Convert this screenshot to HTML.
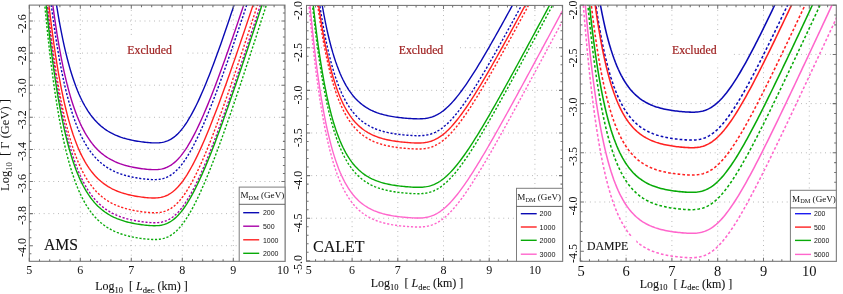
<!DOCTYPE html>
<html><head><meta charset="utf-8"><title>Exclusion limits</title>
<style>
html,body{margin:0;padding:0;background:#fff;}
body{width:843px;height:294px;overflow:hidden;font-family:"Liberation Serif",serif;}
svg{display:block;will-change:transform;}
svg text{font-family:"Liberation Serif",serif;fill:#111;}
svg text.h{stroke:#111;stroke-width:0.1px;}
svg text.s{font-family:"Liberation Sans",sans-serif;}
</style></head><body>
<svg width="843" height="294" viewBox="0 0 843 294">
<rect width="843" height="294" fill="#fff"/>
<defs>
<clipPath id="c1"><rect x="29.30" y="5.10" width="255.70" height="256.20"/></clipPath>
<clipPath id="c2"><rect x="306.50" y="5.40" width="256.10" height="255.90"/></clipPath>
<clipPath id="c3"><rect x="580.30" y="5.10" width="256.00" height="256.20"/></clipPath>
</defs>
<g stroke="#9a9a9a" stroke-width="0.75" stroke-dasharray="0.9 3.9" fill="none">
<path d="M80.30 5.10 V261.30"/>
<path d="M131.30 5.10 V261.30"/>
<path d="M182.30 5.10 V261.30"/>
<path d="M233.30 5.10 V261.30"/>
<path d="M29.30 21.00 H285.00"/>
<path d="M29.30 53.10 H285.00"/>
<path d="M29.30 85.20 H285.00"/>
<path d="M29.30 117.30 H285.00"/>
<path d="M29.30 149.40 H285.00"/>
<path d="M29.30 181.50 H285.00"/>
<path d="M29.30 213.60 H285.00"/>
<path d="M29.30 245.70 H285.00"/>
</g>
<g clip-path="url(#c1)" fill="none" stroke-width="1.40" stroke-linejoin="round">
<path d="M49.69 -45.71 L51.15 -33.54 L52.62 -22.15 L54.08 -11.48 L55.54 -1.50 L57.00 7.85 L58.46 16.60 L59.93 24.79 L61.39 32.46 L62.85 39.64 L64.31 46.36 L65.77 52.65 L67.24 58.54 L68.70 64.05 L70.16 69.21 L71.62 74.04 L73.08 78.56 L74.55 82.79 L76.01 86.76 L77.47 90.47 L78.93 93.94 L80.39 97.19 L81.86 100.23 L83.32 103.08 L84.78 105.75 L86.24 108.24 L87.70 110.58 L89.17 112.77 L90.63 114.82 L92.09 116.73 L93.55 118.53 L95.01 120.21 L96.48 121.78 L97.94 123.25 L99.40 124.63 L100.86 125.92 L102.32 127.13 L103.79 128.26 L105.25 129.32 L106.71 130.31 L108.17 131.24 L109.63 132.11 L111.10 132.92 L112.56 133.68 L114.02 134.39 L115.48 135.06 L116.94 135.68 L118.41 136.27 L119.87 136.81 L121.33 137.33 L122.79 137.81 L124.25 138.25 L125.72 138.67 L127.18 139.07 L128.64 139.44 L130.10 139.78 L131.56 140.10 L133.03 140.40 L134.49 140.69 L135.95 140.95 L137.41 141.20 L138.87 141.43 L140.34 141.65 L141.80 141.85 L143.26 142.04 L144.72 142.21 L146.18 142.37 L147.65 142.51 L149.11 142.64 L150.57 142.75 L152.03 142.84 L153.49 142.90 L154.96 142.92 L156.42 142.92 L157.88 142.86 L159.34 142.76 L160.81 142.60 L162.27 142.37 L163.73 142.06 L165.19 141.67 L166.65 141.18 L168.12 140.60 L169.58 139.91 L171.04 139.10 L172.50 138.17 L173.96 137.12 L175.43 135.94 L176.89 134.64 L178.35 133.20 L179.81 131.62 L181.27 129.92 L182.74 128.08 L184.20 126.11 L185.66 124.01 L187.12 121.79 L188.58 119.44 L190.05 116.97 L191.51 114.38 L192.97 111.68 L194.43 108.87 L195.89 105.96 L197.36 102.94 L198.82 99.83 L200.28 96.63 L201.74 93.33 L203.20 89.95 L204.67 86.49 L206.13 82.96 L207.59 79.35 L209.05 75.67 L210.51 71.93 L211.98 68.12 L213.44 64.26 L214.90 60.34 L216.36 56.36 L217.82 52.34 L219.29 48.27 L220.75 44.16 L222.21 40.00 L223.67 35.80 L225.13 31.57 L226.60 27.30 L228.06 23.00 L229.52 18.67 L230.98 14.31 L232.44 9.93 L233.91 5.51 L235.37 1.08 L236.83 -3.38 L238.29 -7.86 L239.75 -12.36 L241.22 -16.88 L242.68 -21.42 L244.14 -25.98 L245.60 -30.55 L247.06 -35.13 L248.53 -39.73 L249.99 -44.34 L251.45 -48.96 L252.91 -53.59" stroke="#0a0ab4"/>
<path d="M46.77 -47.10 L48.23 -33.13 L49.69 -20.05 L51.15 -7.80 L52.62 3.67 L54.08 14.40 L55.54 24.45 L57.00 33.85 L58.46 42.66 L59.93 50.90 L61.39 58.62 L62.85 65.84 L64.31 72.60 L65.77 78.93 L67.24 84.86 L68.70 90.40 L70.16 95.59 L71.62 100.46 L73.08 105.01 L74.55 109.27 L76.01 113.25 L77.47 116.99 L78.93 120.48 L80.39 123.75 L81.86 126.81 L83.32 129.68 L84.78 132.36 L86.24 134.88 L87.70 137.23 L89.17 139.43 L90.63 141.49 L92.09 143.42 L93.55 145.23 L95.01 146.92 L96.48 148.50 L97.94 149.98 L99.40 151.37 L100.86 152.67 L102.32 153.88 L103.79 155.02 L105.25 156.08 L106.71 157.08 L108.17 158.01 L109.63 158.89 L111.10 159.71 L112.56 160.47 L114.02 161.19 L115.48 161.86 L116.94 162.49 L118.41 163.07 L119.87 163.63 L121.33 164.14 L122.79 164.62 L124.25 165.07 L125.72 165.50 L127.18 165.89 L128.64 166.26 L130.10 166.61 L131.56 166.93 L133.03 167.24 L134.49 167.52 L135.95 167.79 L137.41 168.04 L138.87 168.27 L140.34 168.49 L141.80 168.69 L143.26 168.88 L144.72 169.05 L146.18 169.20 L147.65 169.34 L149.11 169.46 L150.57 169.55 L152.03 169.62 L153.49 169.66 L154.96 169.66 L156.42 169.61 L157.88 169.51 L159.34 169.36 L160.81 169.14 L162.27 168.84 L163.73 168.46 L165.19 167.99 L166.65 167.42 L168.12 166.75 L169.58 165.97 L171.04 165.07 L172.50 164.05 L173.96 162.91 L175.43 161.65 L176.89 160.26 L178.35 158.74 L179.81 157.10 L181.27 155.33 L182.74 153.43 L184.20 151.41 L185.66 149.27 L187.12 147.02 L188.58 144.65 L190.05 142.17 L191.51 139.58 L192.97 136.88 L194.43 134.09 L195.89 131.20 L197.36 128.22 L198.82 125.16 L200.28 122.00 L201.74 118.77 L203.20 115.47 L204.67 112.08 L206.13 108.64 L207.59 105.12 L209.05 101.54 L210.51 97.91 L211.98 94.22 L213.44 90.47 L214.90 86.68 L216.36 82.84 L217.82 78.96 L219.29 75.03 L220.75 71.07 L222.21 67.06 L223.67 63.03 L225.13 58.96 L226.60 54.85 L228.06 50.72 L229.52 46.57 L230.98 42.38 L232.44 38.17 L233.91 33.94 L235.37 29.69 L236.83 25.42 L238.29 21.13 L239.75 16.82 L241.22 12.49 L242.68 8.15 L244.14 3.80 L245.60 -0.57 L247.06 -4.95 L248.53 -9.35 L249.99 -13.75 L251.45 -18.17 L252.91 -22.59 L254.37 -27.03 L255.84 -31.47 L257.30 -35.92 L258.76 -40.38 L260.22 -44.85 L261.68 -49.32 L263.15 -53.80" stroke="#a800a8"/>
<path d="M45.31 -49.61 L46.77 -34.84 L48.23 -21.01 L49.69 -8.06 L51.15 4.05 L52.62 15.40 L54.08 26.01 L55.54 35.95 L57.00 45.26 L58.46 53.97 L59.93 62.13 L61.39 69.76 L62.85 76.91 L64.31 83.60 L65.77 89.86 L67.24 95.72 L68.70 101.21 L70.16 106.34 L71.62 111.15 L73.08 115.66 L74.55 119.87 L76.01 123.82 L77.47 127.51 L78.93 130.97 L80.39 134.20 L81.86 137.23 L83.32 140.07 L84.78 142.72 L86.24 145.21 L87.70 147.53 L89.17 149.71 L90.63 151.75 L92.09 153.66 L93.55 155.45 L95.01 157.12 L96.48 158.69 L97.94 160.15 L99.40 161.52 L100.86 162.81 L102.32 164.01 L103.79 165.14 L105.25 166.19 L106.71 167.18 L108.17 168.10 L109.63 168.96 L111.10 169.77 L112.56 170.53 L114.02 171.24 L115.48 171.90 L116.94 172.52 L118.41 173.11 L119.87 173.65 L121.33 174.16 L122.79 174.64 L124.25 175.08 L125.72 175.50 L127.18 175.89 L128.64 176.26 L130.10 176.60 L131.56 176.93 L133.03 177.23 L134.49 177.51 L135.95 177.77 L137.41 178.02 L138.87 178.25 L140.34 178.46 L141.80 178.66 L143.26 178.85 L144.72 179.02 L146.18 179.17 L147.65 179.30 L149.11 179.42 L150.57 179.51 L152.03 179.58 L153.49 179.61 L154.96 179.61 L156.42 179.56 L157.88 179.46 L159.34 179.30 L160.81 179.07 L162.27 178.77 L163.73 178.39 L165.19 177.91 L166.65 177.34 L168.12 176.66 L169.58 175.87 L171.04 174.96 L172.50 173.94 L173.96 172.79 L175.43 171.51 L176.89 170.11 L178.35 168.58 L179.81 166.92 L181.27 165.14 L182.74 163.23 L184.20 161.20 L185.66 159.05 L187.12 156.78 L188.58 154.39 L190.05 151.89 L191.51 149.29 L192.97 146.58 L194.43 143.77 L195.89 140.86 L197.36 137.87 L198.82 134.78 L200.28 131.61 L201.74 128.36 L203.20 125.04 L204.67 121.64 L206.13 118.17 L207.59 114.64 L209.05 111.04 L210.51 107.38 L211.98 103.67 L213.44 99.91 L214.90 96.10 L216.36 92.24 L217.82 88.33 L219.29 84.39 L220.75 80.40 L222.21 76.38 L223.67 72.32 L225.13 68.23 L226.60 64.10 L228.06 59.95 L229.52 55.77 L230.98 51.57 L232.44 47.34 L233.91 43.09 L235.37 38.81 L236.83 34.52 L238.29 30.21 L239.75 25.88 L241.22 21.53 L242.68 17.17 L244.14 12.79 L245.60 8.40 L247.06 4.00 L248.53 -0.42 L249.99 -4.85 L251.45 -9.28 L252.91 -13.73 L254.37 -18.19 L255.84 -22.65 L257.30 -27.13 L258.76 -31.61 L260.22 -36.10 L261.68 -40.60 L263.15 -45.10 L264.61 -49.61 L266.07 -54.12" stroke="#0a0ab4" stroke-dasharray="2.15 1.75"/>
<path d="M43.84 -45.64 L45.31 -29.95 L46.77 -15.26 L48.23 -1.50 L49.69 11.37 L51.15 23.42 L52.62 34.71 L54.08 45.27 L55.54 55.15 L57.00 64.41 L58.46 73.07 L59.93 81.18 L61.39 88.78 L62.85 95.88 L64.31 102.54 L65.77 108.77 L67.24 114.60 L68.70 120.06 L70.16 125.17 L71.62 129.95 L73.08 134.43 L74.55 138.62 L76.01 142.54 L77.47 146.22 L78.93 149.66 L80.39 152.87 L81.86 155.89 L83.32 158.71 L84.78 161.35 L86.24 163.82 L87.70 166.14 L89.17 168.30 L90.63 170.33 L92.09 172.23 L93.55 174.01 L95.01 175.67 L96.48 177.23 L97.94 178.68 L99.40 180.05 L100.86 181.33 L102.32 182.52 L103.79 183.64 L105.25 184.69 L106.71 185.67 L108.17 186.59 L109.63 187.45 L111.10 188.25 L112.56 189.01 L114.02 189.71 L115.48 190.37 L116.94 190.99 L118.41 191.57 L119.87 192.11 L121.33 192.62 L122.79 193.09 L124.25 193.54 L125.72 193.95 L127.18 194.34 L128.64 194.71 L130.10 195.05 L131.56 195.37 L133.03 195.67 L134.49 195.95 L135.95 196.21 L137.41 196.45 L138.87 196.68 L140.34 196.90 L141.80 197.09 L143.26 197.28 L144.72 197.44 L146.18 197.59 L147.65 197.72 L149.11 197.83 L150.57 197.92 L152.03 197.98 L153.49 198.00 L154.96 197.98 L156.42 197.92 L157.88 197.80 L159.34 197.62 L160.81 197.37 L162.27 197.04 L163.73 196.63 L165.19 196.12 L166.65 195.51 L168.12 194.80 L169.58 193.97 L171.04 193.03 L172.50 191.97 L173.96 190.79 L175.43 189.48 L176.89 188.05 L178.35 186.49 L179.81 184.80 L181.27 182.99 L182.74 181.06 L184.20 179.00 L185.66 176.83 L187.12 174.55 L188.58 172.15 L190.05 169.64 L191.51 167.03 L192.97 164.31 L194.43 161.50 L195.89 158.60 L197.36 155.61 L198.82 152.53 L200.28 149.37 L201.74 146.13 L203.20 142.82 L204.67 139.44 L206.13 135.99 L207.59 132.48 L209.05 128.91 L210.51 125.28 L211.98 121.60 L213.44 117.86 L214.90 114.08 L216.36 110.26 L217.82 106.39 L219.29 102.48 L220.75 98.53 L222.21 94.55 L223.67 90.53 L225.13 86.48 L226.60 82.40 L228.06 78.30 L229.52 74.16 L230.98 70.00 L232.44 65.82 L233.91 61.62 L235.37 57.40 L236.83 53.15 L238.29 48.89 L239.75 44.61 L241.22 40.32 L242.68 36.01 L244.14 31.69 L245.60 27.35 L247.06 23.00 L248.53 18.64 L249.99 14.27 L251.45 9.89 L252.91 5.50 L254.37 1.10 L255.84 -3.31 L257.30 -7.73 L258.76 -12.15 L260.22 -16.59 L261.68 -21.02 L263.15 -25.47 L264.61 -29.92 L266.07 -34.37 L267.53 -38.83 L268.99 -43.29 L270.46 -47.76 L271.92 -52.24" stroke="#ff2020"/>
<path d="M42.38 -50.56 L43.84 -33.62 L45.31 -17.75 L46.77 -2.90 L48.23 11.00 L49.69 24.02 L51.15 36.20 L52.62 47.60 L54.08 58.28 L55.54 68.27 L57.00 77.63 L58.46 86.39 L59.93 94.59 L61.39 102.26 L62.85 109.45 L64.31 116.17 L65.77 122.47 L67.24 128.36 L68.70 133.88 L70.16 139.05 L71.62 143.88 L73.08 148.41 L74.55 152.64 L76.01 156.61 L77.47 160.32 L78.93 163.80 L80.39 167.05 L81.86 170.10 L83.32 172.95 L84.78 175.62 L86.24 178.12 L87.70 180.46 L89.17 182.65 L90.63 184.70 L92.09 186.62 L93.55 188.41 L95.01 190.10 L96.48 191.67 L97.94 193.14 L99.40 194.52 L100.86 195.81 L102.32 197.02 L103.79 198.16 L105.25 199.22 L106.71 200.21 L108.17 201.14 L109.63 202.00 L111.10 202.82 L112.56 203.58 L114.02 204.29 L115.48 204.96 L116.94 205.58 L118.41 206.17 L119.87 206.72 L121.33 207.23 L122.79 207.71 L124.25 208.16 L125.72 208.58 L127.18 208.97 L128.64 209.34 L130.10 209.69 L131.56 210.01 L133.03 210.31 L134.49 210.59 L135.95 210.86 L137.41 211.11 L138.87 211.34 L140.34 211.55 L141.80 211.76 L143.26 211.94 L144.72 212.11 L146.18 212.27 L147.65 212.41 L149.11 212.53 L150.57 212.62 L152.03 212.70 L153.49 212.74 L154.96 212.74 L156.42 212.71 L157.88 212.62 L159.34 212.47 L160.81 212.27 L162.27 211.98 L163.73 211.62 L165.19 211.16 L166.65 210.61 L168.12 209.96 L169.58 209.19 L171.04 208.31 L172.50 207.31 L173.96 206.19 L175.43 204.94 L176.89 203.56 L178.35 202.05 L179.81 200.42 L181.27 198.66 L182.74 196.77 L184.20 194.75 L185.66 192.62 L187.12 190.36 L188.58 187.99 L190.05 185.50 L191.51 182.91 L192.97 180.20 L194.43 177.40 L195.89 174.50 L197.36 171.50 L198.82 168.41 L200.28 165.24 L201.74 161.99 L203.20 158.65 L204.67 155.25 L206.13 151.77 L207.59 148.22 L209.05 144.62 L210.51 140.95 L211.98 137.22 L213.44 133.44 L214.90 129.61 L216.36 125.73 L217.82 121.80 L219.29 117.84 L220.75 113.83 L222.21 109.78 L223.67 105.70 L225.13 101.58 L226.60 97.43 L228.06 93.25 L229.52 89.05 L230.98 84.81 L232.44 80.56 L233.91 76.27 L235.37 71.97 L236.83 67.65 L238.29 63.30 L239.75 58.94 L241.22 54.56 L242.68 50.17 L244.14 45.76 L245.60 41.33 L247.06 36.90 L248.53 32.45 L249.99 27.98 L251.45 23.51 L252.91 19.03 L254.37 14.54 L255.84 10.04 L257.30 5.53 L258.76 1.01 L260.22 -3.52 L261.68 -8.05 L263.15 -12.59 L264.61 -17.13 L266.07 -21.68 L267.53 -26.24 L268.99 -30.80 L270.46 -35.36 L271.92 -39.93 L273.38 -44.51 L274.84 -49.09 L276.30 -53.67" stroke="#ff2020" stroke-dasharray="2.15 1.75"/>
<path d="M42.38 -47.51 L43.84 -30.11 L45.31 -13.83 L46.77 1.41 L48.23 15.68 L49.69 29.03 L51.15 41.53 L52.62 53.24 L54.08 64.20 L55.54 74.45 L57.00 84.05 L58.46 93.04 L59.93 101.46 L61.39 109.33 L62.85 116.71 L64.31 123.61 L65.77 130.07 L67.24 136.12 L68.70 141.78 L70.16 147.08 L71.62 152.05 L73.08 156.69 L74.55 161.04 L76.01 165.11 L77.47 168.92 L78.93 172.49 L80.39 175.83 L81.86 178.95 L83.32 181.88 L84.78 184.62 L86.24 187.18 L87.70 189.58 L89.17 191.83 L90.63 193.94 L92.09 195.90 L93.55 197.75 L95.01 199.47 L96.48 201.09 L97.94 202.60 L99.40 204.02 L100.86 205.34 L102.32 206.58 L103.79 207.75 L105.25 208.83 L106.71 209.85 L108.17 210.80 L109.63 211.70 L111.10 212.53 L112.56 213.31 L114.02 214.04 L115.48 214.73 L116.94 215.37 L118.41 215.97 L119.87 216.53 L121.33 217.06 L122.79 217.55 L124.25 218.01 L125.72 218.44 L127.18 218.85 L128.64 219.23 L130.10 219.58 L131.56 219.91 L133.03 220.22 L134.49 220.51 L135.95 220.78 L137.41 221.04 L138.87 221.27 L140.34 221.50 L141.80 221.70 L143.26 221.89 L144.72 222.07 L146.18 222.23 L147.65 222.37 L149.11 222.49 L150.57 222.59 L152.03 222.67 L153.49 222.71 L154.96 222.72 L156.42 222.68 L157.88 222.59 L159.34 222.44 L160.81 222.23 L162.27 221.94 L163.73 221.57 L165.19 221.11 L166.65 220.56 L168.12 219.89 L169.58 219.12 L171.04 218.23 L172.50 217.22 L173.96 216.09 L175.43 214.83 L176.89 213.44 L178.35 211.92 L179.81 210.28 L181.27 208.50 L182.74 206.60 L184.20 204.57 L185.66 202.42 L187.12 200.16 L188.58 197.77 L190.05 195.27 L191.51 192.66 L192.97 189.95 L194.43 187.13 L195.89 184.21 L197.36 181.20 L198.82 178.11 L200.28 174.92 L201.74 171.65 L203.20 168.31 L204.67 164.89 L206.13 161.40 L207.59 157.84 L209.05 154.22 L210.51 150.54 L211.98 146.80 L213.44 143.01 L214.90 139.16 L216.36 135.27 L217.82 131.34 L219.29 127.36 L220.75 123.34 L222.21 119.28 L223.67 115.18 L225.13 111.06 L226.60 106.90 L228.06 102.71 L229.52 98.49 L230.98 94.24 L232.44 89.97 L233.91 85.68 L235.37 81.37 L236.83 77.03 L238.29 72.68 L239.75 68.30 L241.22 63.91 L242.68 59.51 L244.14 55.09 L245.60 50.65 L247.06 46.20 L248.53 41.74 L249.99 37.27 L251.45 32.79 L252.91 28.29 L254.37 23.79 L255.84 19.28 L257.30 14.76 L258.76 10.23 L260.22 5.70 L261.68 1.15 L263.15 -3.40 L264.61 -7.95 L266.07 -12.51 L267.53 -17.08 L268.99 -21.65 L270.46 -26.23 L271.92 -30.81 L273.38 -35.39 L274.84 -39.98 L276.30 -44.57 L277.77 -49.17 L279.23 -53.76" stroke="#a800a8" stroke-dasharray="2.15 1.75"/>
<path d="M42.38 -37.16 L43.84 -20.24 L45.31 -4.40 L46.77 10.43 L48.23 24.31 L49.69 37.30 L51.15 49.46 L52.62 60.85 L54.08 71.51 L55.54 81.48 L57.00 90.82 L58.46 99.57 L59.93 107.75 L61.39 115.42 L62.85 122.59 L64.31 129.30 L65.77 135.59 L67.24 141.47 L68.70 146.98 L70.16 152.14 L71.62 156.97 L73.08 161.49 L74.55 165.72 L76.01 169.68 L77.47 173.38 L78.93 176.85 L80.39 180.10 L81.86 183.14 L83.32 185.99 L84.78 188.65 L86.24 191.15 L87.70 193.48 L89.17 195.67 L90.63 197.72 L92.09 199.63 L93.55 201.43 L95.01 203.11 L96.48 204.68 L97.94 206.15 L99.40 207.53 L100.86 208.82 L102.32 210.02 L103.79 211.15 L105.25 212.21 L106.71 213.20 L108.17 214.13 L109.63 214.99 L111.10 215.81 L112.56 216.57 L114.02 217.28 L115.48 217.95 L116.94 218.57 L118.41 219.15 L119.87 219.70 L121.33 220.21 L122.79 220.69 L124.25 221.14 L125.72 221.56 L127.18 221.95 L128.64 222.32 L130.10 222.66 L131.56 222.99 L133.03 223.29 L134.49 223.57 L135.95 223.83 L137.41 224.08 L138.87 224.31 L140.34 224.53 L141.80 224.73 L143.26 224.92 L144.72 225.09 L146.18 225.24 L147.65 225.38 L149.11 225.50 L150.57 225.60 L152.03 225.67 L153.49 225.71 L154.96 225.71 L156.42 225.67 L157.88 225.58 L159.34 225.44 L160.81 225.23 L162.27 224.94 L163.73 224.57 L165.19 224.12 L166.65 223.56 L168.12 222.91 L169.58 222.14 L171.04 221.26 L172.50 220.26 L173.96 219.14 L175.43 217.89 L176.89 216.51 L178.35 215.01 L179.81 213.38 L181.27 211.62 L182.74 209.73 L184.20 207.73 L185.66 205.60 L187.12 203.35 L188.58 200.98 L190.05 198.50 L191.51 195.92 L192.97 193.23 L194.43 190.43 L195.89 187.54 L197.36 184.56 L198.82 181.49 L200.28 178.33 L201.74 175.09 L203.20 171.77 L204.67 168.38 L206.13 164.92 L207.59 161.39 L209.05 157.80 L210.51 154.15 L211.98 150.45 L213.44 146.69 L214.90 142.88 L216.36 139.02 L217.82 135.11 L219.29 131.17 L220.75 127.18 L222.21 123.15 L223.67 119.09 L225.13 115.00 L226.60 110.88 L228.06 106.72 L229.52 102.54 L230.98 98.33 L232.44 94.09 L233.91 89.84 L235.37 85.56 L236.83 81.26 L238.29 76.94 L239.75 72.60 L241.22 68.25 L242.68 63.88 L244.14 59.50 L245.60 55.10 L247.06 50.69 L248.53 46.26 L249.99 41.83 L251.45 37.38 L252.91 32.93 L254.37 28.46 L255.84 23.99 L257.30 19.50 L258.76 15.01 L260.22 10.51 L261.68 6.01 L263.15 1.50 L264.61 -3.02 L266.07 -7.54 L267.53 -12.07 L268.99 -16.61 L270.46 -21.15 L271.92 -25.69 L273.38 -30.23 L274.84 -34.79 L276.30 -39.34 L277.77 -43.90 L279.23 -48.46 L280.69 -53.02" stroke="#08aa08"/>
<path d="M40.92 -40.01 L42.38 -22.03 L43.84 -5.19 L45.31 10.56 L46.77 25.31 L48.23 39.12 L49.69 52.05 L51.15 64.15 L52.62 75.48 L54.08 86.08 L55.54 96.01 L57.00 105.30 L58.46 114.00 L59.93 122.14 L61.39 129.76 L62.85 136.90 L64.31 143.58 L65.77 149.83 L67.24 155.69 L68.70 161.17 L70.16 166.30 L71.62 171.10 L73.08 175.60 L74.55 179.80 L76.01 183.74 L77.47 187.43 L78.93 190.88 L80.39 194.12 L81.86 197.14 L83.32 199.97 L84.78 202.63 L86.24 205.11 L87.70 207.43 L89.17 209.61 L90.63 211.64 L92.09 213.55 L93.55 215.33 L95.01 217.00 L96.48 218.57 L97.94 220.03 L99.40 221.40 L100.86 222.68 L102.32 223.88 L103.79 225.01 L105.25 226.06 L106.71 227.04 L108.17 227.97 L109.63 228.83 L111.10 229.64 L112.56 230.39 L114.02 231.10 L115.48 231.77 L116.94 232.39 L118.41 232.97 L119.87 233.51 L121.33 234.02 L122.79 234.50 L124.25 234.94 L125.72 235.36 L127.18 235.75 L128.64 236.12 L130.10 236.46 L131.56 236.78 L133.03 237.08 L134.49 237.36 L135.95 237.62 L137.41 237.87 L138.87 238.10 L140.34 238.32 L141.80 238.52 L143.26 238.70 L144.72 238.87 L146.18 239.03 L147.65 239.17 L149.11 239.28 L150.57 239.38 L152.03 239.46 L153.49 239.50 L154.96 239.51 L156.42 239.47 L157.88 239.39 L159.34 239.25 L160.81 239.05 L162.27 238.78 L163.73 238.42 L165.19 237.98 L166.65 237.44 L168.12 236.79 L169.58 236.04 L171.04 235.17 L172.50 234.19 L173.96 233.08 L175.43 231.85 L176.89 230.49 L178.35 229.00 L179.81 227.38 L181.27 225.63 L182.74 223.76 L184.20 221.76 L185.66 219.64 L187.12 217.40 L188.58 215.04 L190.05 212.57 L191.51 209.99 L192.97 207.31 L194.43 204.52 L195.89 201.63 L197.36 198.65 L198.82 195.58 L200.28 192.42 L201.74 189.18 L203.20 185.86 L204.67 182.46 L206.13 179.00 L207.59 175.46 L209.05 171.87 L210.51 168.21 L211.98 164.50 L213.44 160.73 L214.90 156.91 L216.36 153.04 L217.82 149.12 L219.29 145.17 L220.75 141.17 L222.21 137.13 L223.67 133.06 L225.13 128.95 L226.60 124.81 L228.06 120.64 L229.52 116.44 L230.98 112.22 L232.44 107.97 L233.91 103.70 L235.37 99.40 L236.83 95.09 L238.29 90.75 L239.75 86.40 L241.22 82.03 L242.68 77.64 L244.14 73.24 L245.60 68.82 L247.06 64.39 L248.53 59.95 L249.99 55.50 L251.45 51.03 L252.91 46.56 L254.37 42.07 L255.84 37.58 L257.30 33.07 L258.76 28.56 L260.22 24.05 L261.68 19.52 L263.15 14.99 L264.61 10.45 L266.07 5.91 L267.53 1.36 L268.99 -3.19 L270.46 -7.75 L271.92 -12.31 L273.38 -16.88 L274.84 -21.45 L276.30 -26.03 L277.77 -30.60 L279.23 -35.19 L280.69 -39.77 L282.15 -44.36 L283.61 -48.95 L285.08 -53.54" stroke="#08aa08" stroke-dasharray="2.15 1.75"/>
</g>
<g stroke="#727272" stroke-width="1.05" fill="none">
<rect x="29.30" y="5.10" width="255.70" height="256.20"/>
<path d="M29.30 261.30v-3.6M29.30 5.10v3.6M39.50 261.30v-2.1M39.50 5.10v2.1M49.70 261.30v-2.1M49.70 5.10v2.1M59.90 261.30v-2.1M59.90 5.10v2.1M70.10 261.30v-2.1M70.10 5.10v2.1M80.30 261.30v-3.6M80.30 5.10v3.6M90.50 261.30v-2.1M90.50 5.10v2.1M100.70 261.30v-2.1M100.70 5.10v2.1M110.90 261.30v-2.1M110.90 5.10v2.1M121.10 261.30v-2.1M121.10 5.10v2.1M131.30 261.30v-3.6M131.30 5.10v3.6M141.50 261.30v-2.1M141.50 5.10v2.1M151.70 261.30v-2.1M151.70 5.10v2.1M161.90 261.30v-2.1M161.90 5.10v2.1M172.10 261.30v-2.1M172.10 5.10v2.1M182.30 261.30v-3.6M182.30 5.10v3.6M192.50 261.30v-2.1M192.50 5.10v2.1M202.70 261.30v-2.1M202.70 5.10v2.1M212.90 261.30v-2.1M212.90 5.10v2.1M223.10 261.30v-2.1M223.10 5.10v2.1M233.30 261.30v-3.6M233.30 5.10v3.6M243.50 261.30v-2.1M243.50 5.10v2.1M253.70 261.30v-2.1M253.70 5.10v2.1M263.90 261.30v-2.1M263.90 5.10v2.1M274.10 261.30v-2.1M274.10 5.10v2.1M284.30 261.30v-3.6M284.30 5.10v3.6M29.30 253.72h2.1M285.00 253.72h-2.1M29.30 245.70h3.6M285.00 245.70h-3.6M29.30 237.68h2.1M285.00 237.68h-2.1M29.30 229.65h2.1M285.00 229.65h-2.1M29.30 221.62h2.1M285.00 221.62h-2.1M29.30 213.60h3.6M285.00 213.60h-3.6M29.30 205.57h2.1M285.00 205.57h-2.1M29.30 197.55h2.1M285.00 197.55h-2.1M29.30 189.53h2.1M285.00 189.53h-2.1M29.30 181.50h3.6M285.00 181.50h-3.6M29.30 173.48h2.1M285.00 173.48h-2.1M29.30 165.45h2.1M285.00 165.45h-2.1M29.30 157.43h2.1M285.00 157.43h-2.1M29.30 149.40h3.6M285.00 149.40h-3.6M29.30 141.38h2.1M285.00 141.38h-2.1M29.30 133.35h2.1M285.00 133.35h-2.1M29.30 125.32h2.1M285.00 125.32h-2.1M29.30 117.30h3.6M285.00 117.30h-3.6M29.30 109.28h2.1M285.00 109.28h-2.1M29.30 101.25h2.1M285.00 101.25h-2.1M29.30 93.23h2.1M285.00 93.23h-2.1M29.30 85.20h3.6M285.00 85.20h-3.6M29.30 77.18h2.1M285.00 77.18h-2.1M29.30 69.15h2.1M285.00 69.15h-2.1M29.30 61.12h2.1M285.00 61.12h-2.1M29.30 53.10h3.6M285.00 53.10h-3.6M29.30 45.07h2.1M285.00 45.07h-2.1M29.30 37.05h2.1M285.00 37.05h-2.1M29.30 29.03h2.1M285.00 29.03h-2.1M29.30 21.00h3.6M285.00 21.00h-3.6M29.30 12.98h2.1M285.00 12.98h-2.1"/>
</g>
<g stroke="#9a9a9a" stroke-width="0.75" stroke-dasharray="0.9 3.9" fill="none">
<path d="M352.10 5.40 V261.30"/>
<path d="M397.80 5.40 V261.30"/>
<path d="M443.50 5.40 V261.30"/>
<path d="M489.20 5.40 V261.30"/>
<path d="M534.90 5.40 V261.30"/>
<path d="M306.50 47.73 H562.60"/>
<path d="M306.50 90.35 H562.60"/>
<path d="M306.50 132.97 H562.60"/>
<path d="M306.50 175.60 H562.60"/>
<path d="M306.50 218.22 H562.60"/>
</g>
<g clip-path="url(#c2)" fill="none" stroke-width="1.40" stroke-linejoin="round">
<path d="M315.21 -43.10 L316.68 -31.50 L318.14 -20.74 L319.61 -10.73 L321.07 -1.44 L322.54 7.19 L324.00 15.21 L325.46 22.65 L326.93 29.57 L328.39 36.00 L329.86 41.96 L331.32 47.51 L332.78 52.66 L334.25 57.44 L335.71 61.88 L337.18 66.01 L338.64 69.84 L340.11 73.41 L341.57 76.71 L343.03 79.79 L344.50 82.64 L345.96 85.29 L347.43 87.75 L348.89 90.04 L350.36 92.17 L351.82 94.14 L353.28 95.97 L354.75 97.67 L356.21 99.26 L357.68 100.73 L359.14 102.09 L360.61 103.36 L362.07 104.54 L363.53 105.63 L365.00 106.64 L366.46 107.59 L367.93 108.47 L369.39 109.28 L370.86 110.04 L372.32 110.74 L373.78 111.39 L375.25 112.00 L376.71 112.56 L378.18 113.08 L379.64 113.57 L381.11 114.02 L382.57 114.44 L384.03 114.83 L385.50 115.19 L386.96 115.53 L388.43 115.84 L389.89 116.13 L391.35 116.40 L392.82 116.65 L394.28 116.88 L395.75 117.10 L397.21 117.30 L398.68 117.48 L400.14 117.66 L401.60 117.82 L403.07 117.96 L404.53 118.10 L406.00 118.23 L407.46 118.35 L408.93 118.46 L410.39 118.56 L411.85 118.64 L413.32 118.72 L414.78 118.78 L416.25 118.82 L417.71 118.85 L419.18 118.84 L420.64 118.81 L422.10 118.75 L423.57 118.64 L425.03 118.49 L426.50 118.28 L427.96 118.02 L429.43 117.69 L430.89 117.29 L432.35 116.82 L433.82 116.27 L435.28 115.64 L436.75 114.93 L438.21 114.14 L439.67 113.25 L441.14 112.29 L442.60 111.23 L444.07 110.10 L445.53 108.88 L447.00 107.58 L448.46 106.20 L449.92 104.75 L451.39 103.22 L452.85 101.62 L454.32 99.95 L455.78 98.22 L457.25 96.43 L458.71 94.58 L460.17 92.67 L461.64 90.71 L463.10 88.70 L464.57 86.64 L466.03 84.53 L467.50 82.39 L468.96 80.20 L470.42 77.98 L471.89 75.72 L473.35 73.43 L474.82 71.11 L476.28 68.76 L477.75 66.38 L479.21 63.97 L480.67 61.55 L482.14 59.10 L483.60 56.63 L485.07 54.14 L486.53 51.63 L487.99 49.10 L489.46 46.56 L490.92 44.01 L492.39 41.44 L493.85 38.86 L495.32 36.26 L496.78 33.66 L498.24 31.04 L499.71 28.42 L501.17 25.79 L502.64 23.14 L504.10 20.49 L505.57 17.84 L507.03 15.17 L508.49 12.50 L509.96 9.83 L511.42 7.15 L512.89 4.46 L514.35 1.77 L515.82 -0.93 L517.28 -3.62 L518.74 -6.33 L520.21 -9.03 L521.67 -11.74 L523.14 -14.46 L524.60 -17.17 L526.07 -19.89 L527.53 -22.61 L528.99 -25.33 L530.46 -28.06 L531.92 -30.79 L533.39 -33.51 L534.85 -36.24 L536.32 -38.98 L537.78 -41.71 L539.24 -44.44 L540.71 -47.18 L542.17 -49.92 L543.64 -52.66" stroke="#0a0ab4"/>
<path d="M313.75 -41.43 L315.21 -28.76 L316.68 -16.98 L318.14 -6.05 L319.61 4.11 L321.07 13.55 L322.54 22.32 L324.00 30.46 L325.46 38.02 L326.93 45.05 L328.39 51.57 L329.86 57.64 L331.32 63.27 L332.78 68.50 L334.25 73.35 L335.71 77.87 L337.18 82.06 L338.64 85.95 L340.11 89.57 L341.57 92.93 L343.03 96.05 L344.50 98.95 L345.96 101.64 L347.43 104.14 L348.89 106.47 L350.36 108.62 L351.82 110.63 L353.28 112.49 L354.75 114.22 L356.21 115.83 L357.68 117.32 L359.14 118.70 L360.61 119.99 L362.07 121.19 L363.53 122.30 L365.00 123.33 L366.46 124.29 L367.93 125.18 L369.39 126.01 L370.86 126.77 L372.32 127.49 L373.78 128.15 L375.25 128.77 L376.71 129.34 L378.18 129.87 L379.64 130.36 L381.11 130.82 L382.57 131.25 L384.03 131.64 L385.50 132.01 L386.96 132.35 L388.43 132.67 L389.89 132.96 L391.35 133.24 L392.82 133.49 L394.28 133.73 L395.75 133.94 L397.21 134.15 L398.68 134.34 L400.14 134.51 L401.60 134.68 L403.07 134.83 L404.53 134.97 L406.00 135.10 L407.46 135.22 L408.93 135.33 L410.39 135.42 L411.85 135.51 L413.32 135.58 L414.78 135.64 L416.25 135.68 L417.71 135.70 L419.18 135.69 L420.64 135.65 L422.10 135.57 L423.57 135.45 L425.03 135.28 L426.50 135.06 L427.96 134.78 L429.43 134.43 L430.89 134.00 L432.35 133.51 L433.82 132.93 L435.28 132.28 L436.75 131.54 L438.21 130.72 L439.67 129.81 L441.14 128.82 L442.60 127.74 L444.07 126.58 L445.53 125.34 L447.00 124.02 L448.46 122.62 L449.92 121.15 L451.39 119.61 L452.85 117.99 L454.32 116.32 L455.78 114.57 L457.25 112.77 L458.71 110.91 L460.17 109.00 L461.64 107.03 L463.10 105.02 L464.57 102.95 L466.03 100.85 L467.50 98.70 L468.96 96.52 L470.42 94.30 L471.89 92.05 L473.35 89.76 L474.82 87.45 L476.28 85.10 L477.75 82.73 L479.21 80.34 L480.67 77.92 L482.14 75.48 L483.60 73.02 L485.07 70.54 L486.53 68.05 L487.99 65.53 L489.46 63.01 L490.92 60.47 L492.39 57.91 L493.85 55.35 L495.32 52.77 L496.78 50.18 L498.24 47.58 L499.71 44.97 L501.17 42.35 L502.64 39.73 L504.10 37.10 L505.57 34.46 L507.03 31.81 L508.49 29.16 L509.96 26.50 L511.42 23.84 L512.89 21.17 L514.35 18.50 L515.82 15.82 L517.28 13.14 L518.74 10.46 L520.21 7.77 L521.67 5.08 L523.14 2.39 L524.60 -0.31 L526.07 -3.00 L527.53 -5.71 L528.99 -8.41 L530.46 -11.11 L531.92 -13.82 L533.39 -16.53 L534.85 -19.24 L536.32 -21.95 L537.78 -24.66 L539.24 -27.38 L540.71 -30.09 L542.17 -32.81 L543.64 -35.53 L545.10 -38.25 L546.56 -40.97 L548.03 -43.69 L549.49 -46.41 L550.96 -49.13 L552.42 -51.85 L553.89 -54.58" stroke="#0a0ab4" stroke-dasharray="2.2 1.8"/>
<path d="M312.29 -46.56 L313.75 -33.00 L315.21 -20.41 L316.68 -8.70 L318.14 2.16 L319.61 12.26 L321.07 21.64 L322.54 30.35 L324.00 38.44 L325.46 45.96 L326.93 52.94 L328.39 59.42 L329.86 65.45 L331.32 71.04 L332.78 76.24 L334.25 81.07 L335.71 85.55 L337.18 89.72 L338.64 93.59 L340.11 97.18 L341.57 100.52 L343.03 103.62 L344.50 106.50 L345.96 109.18 L347.43 111.66 L348.89 113.97 L350.36 116.12 L351.82 118.11 L353.28 119.96 L354.75 121.68 L356.21 123.27 L357.68 124.76 L359.14 126.13 L360.61 127.41 L362.07 128.60 L363.53 129.71 L365.00 130.73 L366.46 131.68 L367.93 132.57 L369.39 133.39 L370.86 134.15 L372.32 134.86 L373.78 135.52 L375.25 136.13 L376.71 136.70 L378.18 137.23 L379.64 137.72 L381.11 138.17 L382.57 138.60 L384.03 138.99 L385.50 139.36 L386.96 139.70 L388.43 140.01 L389.89 140.30 L391.35 140.57 L392.82 140.83 L394.28 141.06 L395.75 141.28 L397.21 141.48 L398.68 141.67 L400.14 141.84 L401.60 142.01 L403.07 142.16 L404.53 142.30 L406.00 142.42 L407.46 142.54 L408.93 142.65 L410.39 142.75 L411.85 142.83 L413.32 142.90 L414.78 142.96 L416.25 143.00 L417.71 143.01 L419.18 143.00 L420.64 142.95 L422.10 142.87 L423.57 142.74 L425.03 142.56 L426.50 142.32 L427.96 142.03 L429.43 141.67 L430.89 141.23 L432.35 140.72 L433.82 140.13 L435.28 139.46 L436.75 138.71 L438.21 137.87 L439.67 136.94 L441.14 135.94 L442.60 134.84 L444.07 133.67 L445.53 132.41 L447.00 131.08 L448.46 129.67 L449.92 128.18 L451.39 126.63 L452.85 125.00 L454.32 123.31 L455.78 121.55 L457.25 119.74 L458.71 117.87 L460.17 115.95 L461.64 113.97 L463.10 111.95 L464.57 109.88 L466.03 107.77 L467.50 105.61 L468.96 103.42 L470.42 101.20 L471.89 98.94 L473.35 96.64 L474.82 94.32 L476.28 91.97 L477.75 89.60 L479.21 87.20 L480.67 84.78 L482.14 82.34 L483.60 79.87 L485.07 77.39 L486.53 74.89 L487.99 72.38 L489.46 69.85 L490.92 67.30 L492.39 64.75 L493.85 62.18 L495.32 59.60 L496.78 57.01 L498.24 54.41 L499.71 51.80 L501.17 49.18 L502.64 46.55 L504.10 43.92 L505.57 41.28 L507.03 38.63 L508.49 35.98 L509.96 33.32 L511.42 30.66 L512.89 27.99 L514.35 25.31 L515.82 22.64 L517.28 19.96 L518.74 17.27 L520.21 14.58 L521.67 11.89 L523.14 9.20 L524.60 6.50 L526.07 3.80 L527.53 1.10 L528.99 -1.60 L530.46 -4.31 L531.92 -7.01 L533.39 -9.72 L534.85 -12.43 L536.32 -15.14 L537.78 -17.86 L539.24 -20.57 L540.71 -23.29 L542.17 -26.00 L543.64 -28.72 L545.10 -31.44 L546.56 -34.16 L548.03 -36.88 L549.49 -39.60 L550.96 -42.33 L552.42 -45.05 L553.89 -47.77 L555.35 -50.50 L556.81 -53.22" stroke="#ff2020"/>
<path d="M310.82 -54.54 L312.29 -39.99 L313.75 -26.47 L315.21 -13.91 L316.68 -2.25 L318.14 8.59 L319.61 18.66 L321.07 28.00 L322.54 36.69 L324.00 44.75 L325.46 52.25 L326.93 59.21 L328.39 65.67 L329.86 71.68 L331.32 77.26 L332.78 82.44 L334.25 87.25 L335.71 91.72 L337.18 95.87 L338.64 99.73 L340.11 103.31 L341.57 106.64 L343.03 109.73 L344.50 112.60 L345.96 115.27 L347.43 117.75 L348.89 120.05 L350.36 122.19 L351.82 124.17 L353.28 126.02 L354.75 127.73 L356.21 129.32 L357.68 130.80 L359.14 132.18 L360.61 133.45 L362.07 134.64 L363.53 135.74 L365.00 136.76 L366.46 137.71 L367.93 138.59 L369.39 139.41 L370.86 140.17 L372.32 140.88 L373.78 141.53 L375.25 142.14 L376.71 142.71 L378.18 143.24 L379.64 143.73 L381.11 144.18 L382.57 144.60 L384.03 144.99 L385.50 145.36 L386.96 145.69 L388.43 146.01 L389.89 146.30 L391.35 146.57 L392.82 146.82 L394.28 147.06 L395.75 147.27 L397.21 147.48 L398.68 147.66 L400.14 147.84 L401.60 148.00 L403.07 148.15 L404.53 148.29 L406.00 148.42 L407.46 148.53 L408.93 148.64 L410.39 148.74 L411.85 148.82 L413.32 148.89 L414.78 148.95 L416.25 148.99 L417.71 149.00 L419.18 148.99 L420.64 148.94 L422.10 148.86 L423.57 148.73 L425.03 148.56 L426.50 148.32 L427.96 148.03 L429.43 147.67 L430.89 147.24 L432.35 146.73 L433.82 146.14 L435.28 145.47 L436.75 144.72 L438.21 143.89 L439.67 142.97 L441.14 141.96 L442.60 140.87 L444.07 139.70 L445.53 138.45 L447.00 137.12 L448.46 135.71 L449.92 134.23 L451.39 132.67 L452.85 131.05 L454.32 129.36 L455.78 127.61 L457.25 125.80 L458.71 123.93 L460.17 122.01 L461.64 120.03 L463.10 118.01 L464.57 115.94 L466.03 113.83 L467.50 111.68 L468.96 109.49 L470.42 107.27 L471.89 105.01 L473.35 102.72 L474.82 100.40 L476.28 98.05 L477.75 95.68 L479.21 93.28 L480.67 90.86 L482.14 88.41 L483.60 85.95 L485.07 83.47 L486.53 80.97 L487.99 78.46 L489.46 75.93 L490.92 73.39 L492.39 70.83 L493.85 68.26 L495.32 65.68 L496.78 63.09 L498.24 60.49 L499.71 57.88 L501.17 55.26 L502.64 52.64 L504.10 50.00 L505.57 47.36 L507.03 44.72 L508.49 42.06 L509.96 39.41 L511.42 36.74 L512.89 34.07 L514.35 31.40 L515.82 28.72 L517.28 26.04 L518.74 23.36 L520.21 20.67 L521.67 17.98 L523.14 15.29 L524.60 12.59 L526.07 9.89 L527.53 7.19 L528.99 4.49 L530.46 1.78 L531.92 -0.92 L533.39 -3.63 L534.85 -6.34 L536.32 -9.06 L537.78 -11.77 L539.24 -14.48 L540.71 -17.20 L542.17 -19.92 L543.64 -22.63 L545.10 -25.35 L546.56 -28.07 L548.03 -30.79 L549.49 -33.51 L550.96 -36.24 L552.42 -38.96 L553.89 -41.68 L555.35 -44.41 L556.81 -47.13 L558.28 -49.86 L559.74 -52.58" stroke="#ff2020" stroke-dasharray="2.2 1.8"/>
<path d="M307.89 -51.91 L309.36 -34.82 L310.82 -18.94 L312.29 -4.20 L313.75 9.50 L315.21 22.22 L316.68 34.04 L318.14 45.02 L319.61 55.22 L321.07 64.69 L322.54 73.49 L324.00 81.66 L325.46 89.25 L326.93 96.30 L328.39 102.85 L329.86 108.94 L331.32 114.59 L332.78 119.84 L334.25 124.72 L335.71 129.25 L337.18 133.45 L338.64 137.36 L340.11 140.99 L341.57 144.36 L343.03 147.50 L344.50 150.41 L345.96 153.11 L347.43 155.62 L348.89 157.95 L350.36 160.12 L351.82 162.13 L353.28 164.00 L354.75 165.73 L356.21 167.34 L357.68 168.84 L359.14 170.23 L360.61 171.53 L362.07 172.73 L363.53 173.84 L365.00 174.88 L366.46 175.84 L367.93 176.73 L369.39 177.56 L370.86 178.33 L372.32 179.05 L373.78 179.72 L375.25 180.33 L376.71 180.91 L378.18 181.44 L379.64 181.94 L381.11 182.40 L382.57 182.82 L384.03 183.22 L385.50 183.59 L386.96 183.93 L388.43 184.25 L389.89 184.54 L391.35 184.82 L392.82 185.07 L394.28 185.31 L395.75 185.53 L397.21 185.74 L398.68 185.93 L400.14 186.10 L401.60 186.27 L403.07 186.42 L404.53 186.56 L406.00 186.69 L407.46 186.81 L408.93 186.92 L410.39 187.02 L411.85 187.10 L413.32 187.18 L414.78 187.24 L416.25 187.28 L417.71 187.30 L419.18 187.29 L420.64 187.26 L422.10 187.18 L423.57 187.06 L425.03 186.90 L426.50 186.68 L427.96 186.40 L429.43 186.06 L430.89 185.64 L432.35 185.15 L433.82 184.58 L435.28 183.93 L436.75 183.20 L438.21 182.39 L439.67 181.49 L441.14 180.50 L442.60 179.43 L444.07 178.28 L445.53 177.04 L447.00 175.73 L448.46 174.34 L449.92 172.87 L451.39 171.33 L452.85 169.73 L454.32 168.05 L455.78 166.32 L457.25 164.52 L458.71 162.66 L460.17 160.75 L461.64 158.79 L463.10 156.78 L464.57 154.72 L466.03 152.62 L467.50 150.48 L468.96 148.30 L470.42 146.08 L471.89 143.83 L473.35 141.55 L474.82 139.23 L476.28 136.89 L477.75 134.52 L479.21 132.13 L480.67 129.72 L482.14 127.28 L483.60 124.82 L485.07 122.34 L486.53 119.85 L487.99 117.34 L489.46 114.81 L490.92 112.27 L492.39 109.72 L493.85 107.15 L495.32 104.58 L496.78 101.99 L498.24 99.39 L499.71 96.78 L501.17 94.17 L502.64 91.54 L504.10 88.91 L505.57 86.27 L507.03 83.63 L508.49 80.98 L509.96 78.32 L511.42 75.66 L512.89 72.99 L514.35 70.32 L515.82 67.64 L517.28 64.96 L518.74 62.28 L520.21 59.59 L521.67 56.90 L523.14 54.21 L524.60 51.51 L526.07 48.81 L527.53 46.11 L528.99 43.41 L530.46 40.71 L531.92 38.00 L533.39 35.29 L534.85 32.58 L536.32 29.87 L537.78 27.16 L539.24 24.44 L540.71 21.73 L542.17 19.01 L543.64 16.29 L545.10 13.57 L546.56 10.85 L548.03 8.13 L549.49 5.41 L550.96 2.69 L552.42 -0.03 L553.89 -2.76 L555.35 -5.48 L556.81 -8.20 L558.28 -10.93 L559.74 -13.65 L561.21 -16.38 L562.67 -19.11 L564.14 -21.83 L565.60 -24.56" stroke="#08aa08"/>
<path d="M307.89 -44.09 L309.36 -27.10 L310.82 -11.32 L312.29 3.34 L313.75 16.96 L315.21 29.61 L316.68 41.36 L318.14 52.27 L319.61 62.41 L321.07 71.83 L322.54 80.58 L324.00 88.70 L325.46 96.25 L326.93 103.26 L328.39 109.77 L329.86 115.82 L331.32 121.44 L332.78 126.66 L334.25 131.51 L335.71 136.01 L337.18 140.19 L338.64 144.08 L340.11 147.69 L341.57 151.04 L343.03 154.15 L344.50 157.04 L345.96 159.73 L347.43 162.23 L348.89 164.54 L350.36 166.70 L351.82 168.70 L353.28 170.56 L354.75 172.28 L356.21 173.89 L357.68 175.37 L359.14 176.76 L360.61 178.04 L362.07 179.24 L363.53 180.34 L365.00 181.37 L366.46 182.33 L367.93 183.22 L369.39 184.04 L370.86 184.81 L372.32 185.52 L373.78 186.18 L375.25 186.80 L376.71 187.37 L378.18 187.90 L379.64 188.39 L381.11 188.85 L382.57 189.27 L384.03 189.67 L385.50 190.03 L386.96 190.38 L388.43 190.69 L389.89 190.99 L391.35 191.26 L392.82 191.51 L394.28 191.75 L395.75 191.97 L397.21 192.17 L398.68 192.36 L400.14 192.53 L401.60 192.70 L403.07 192.85 L404.53 192.99 L406.00 193.12 L407.46 193.23 L408.93 193.34 L410.39 193.44 L411.85 193.53 L413.32 193.60 L414.78 193.65 L416.25 193.69 L417.71 193.70 L419.18 193.69 L420.64 193.64 L422.10 193.56 L423.57 193.43 L425.03 193.25 L426.50 193.01 L427.96 192.71 L429.43 192.34 L430.89 191.91 L432.35 191.39 L433.82 190.80 L435.28 190.13 L436.75 189.37 L438.21 188.53 L439.67 187.60 L441.14 186.59 L442.60 185.50 L444.07 184.32 L445.53 183.06 L447.00 181.72 L448.46 180.31 L449.92 178.82 L451.39 177.26 L452.85 175.63 L454.32 173.94 L455.78 172.18 L457.25 170.37 L458.71 168.50 L460.17 166.57 L461.64 164.59 L463.10 162.57 L464.57 160.50 L466.03 158.38 L467.50 156.23 L468.96 154.04 L470.42 151.81 L471.89 149.55 L473.35 147.25 L474.82 144.93 L476.28 142.58 L477.75 140.21 L479.21 137.81 L480.67 135.38 L482.14 132.94 L483.60 130.48 L485.07 127.99 L486.53 125.49 L487.99 122.98 L489.46 120.45 L490.92 117.90 L492.39 115.35 L493.85 112.78 L495.32 110.20 L496.78 107.61 L498.24 105.00 L499.71 102.39 L501.17 99.78 L502.64 97.15 L504.10 94.52 L505.57 91.87 L507.03 89.23 L508.49 86.57 L509.96 83.92 L511.42 81.25 L512.89 78.58 L514.35 75.91 L515.82 73.23 L517.28 70.55 L518.74 67.87 L520.21 65.18 L521.67 62.49 L523.14 59.79 L524.60 57.10 L526.07 54.40 L527.53 51.70 L528.99 48.99 L530.46 46.29 L531.92 43.58 L533.39 40.87 L534.85 38.16 L536.32 35.45 L537.78 32.74 L539.24 30.02 L540.71 27.31 L542.17 24.59 L543.64 21.87 L545.10 19.15 L546.56 16.43 L548.03 13.71 L549.49 10.99 L550.96 8.27 L552.42 5.55 L553.89 2.82 L555.35 0.10 L556.81 -2.63 L558.28 -5.35 L559.74 -8.08 L561.21 -10.80 L562.67 -13.53 L564.14 -16.26 L565.60 -18.98" stroke="#08aa08" stroke-dasharray="2.2 1.8"/>
<path d="M306.43 -36.74 L307.89 -18.54 L309.36 -1.64 L310.82 14.06 L312.29 28.65 L313.75 42.19 L315.21 54.78 L316.68 66.47 L318.14 77.32 L319.61 87.41 L321.07 96.78 L322.54 105.48 L324.00 113.56 L325.46 121.07 L326.93 128.04 L328.39 134.52 L329.86 140.54 L331.32 146.13 L332.78 151.32 L334.25 156.14 L335.71 160.62 L337.18 164.78 L338.64 168.65 L340.11 172.24 L341.57 175.57 L343.03 178.67 L344.50 181.55 L345.96 184.22 L347.43 186.70 L348.89 189.01 L350.36 191.15 L351.82 193.14 L353.28 194.99 L354.75 196.70 L356.21 198.30 L357.68 199.78 L359.14 201.16 L360.61 202.43 L362.07 203.62 L363.53 204.72 L365.00 205.75 L366.46 206.70 L367.93 207.58 L369.39 208.40 L370.86 209.17 L372.32 209.88 L373.78 210.53 L375.25 211.14 L376.71 211.71 L378.18 212.24 L379.64 212.73 L381.11 213.18 L382.57 213.61 L384.03 214.00 L385.50 214.36 L386.96 214.70 L388.43 215.02 L389.89 215.31 L391.35 215.58 L392.82 215.83 L394.28 216.07 L395.75 216.28 L397.21 216.49 L398.68 216.67 L400.14 216.85 L401.60 217.01 L403.07 217.16 L404.53 217.30 L406.00 217.43 L407.46 217.55 L408.93 217.65 L410.39 217.75 L411.85 217.83 L413.32 217.90 L414.78 217.96 L416.25 217.99 L417.71 218.00 L419.18 217.99 L420.64 217.93 L422.10 217.84 L423.57 217.71 L425.03 217.52 L426.50 217.28 L427.96 216.97 L429.43 216.60 L430.89 216.16 L432.35 215.63 L433.82 215.03 L435.28 214.35 L436.75 213.58 L438.21 212.73 L439.67 211.80 L441.14 210.78 L442.60 209.67 L444.07 208.48 L445.53 207.22 L447.00 205.87 L448.46 204.45 L449.92 202.95 L451.39 201.38 L452.85 199.75 L454.32 198.05 L455.78 196.29 L457.25 194.46 L458.71 192.58 L460.17 190.65 L461.64 188.67 L463.10 186.64 L464.57 184.56 L466.03 182.44 L467.50 180.29 L468.96 178.09 L470.42 175.86 L471.89 173.59 L473.35 171.30 L474.82 168.97 L476.28 166.62 L477.75 164.24 L479.21 161.84 L480.67 159.41 L482.14 156.97 L483.60 154.50 L485.07 152.02 L486.53 149.51 L487.99 147.00 L489.46 144.47 L490.92 141.92 L492.39 139.36 L493.85 136.79 L495.32 134.21 L496.78 131.62 L498.24 129.01 L499.71 126.40 L501.17 123.78 L502.64 121.16 L504.10 118.52 L505.57 115.88 L507.03 113.23 L508.49 110.58 L509.96 107.92 L511.42 105.25 L512.89 102.59 L514.35 99.91 L515.82 97.23 L517.28 94.55 L518.74 91.87 L520.21 89.18 L521.67 86.49 L523.14 83.79 L524.60 81.10 L526.07 78.40 L527.53 75.70 L528.99 72.99 L530.46 70.29 L531.92 67.58 L533.39 64.87 L534.85 62.16 L536.32 59.45 L537.78 56.73 L539.24 54.02 L540.71 51.30 L542.17 48.59 L543.64 45.87 L545.10 43.15 L546.56 40.43 L548.03 37.71 L549.49 34.99 L550.96 32.26 L552.42 29.54 L553.89 26.82 L555.35 24.09 L556.81 21.37 L558.28 18.64 L559.74 15.92 L561.21 13.19 L562.67 10.47 L564.14 7.74 L565.60 5.01" stroke="#ff66cc"/>
<path d="M304.96 -44.81 L306.43 -25.40 L307.89 -7.38 L309.36 9.37 L310.82 24.92 L312.29 39.37 L313.75 52.79 L315.21 65.26 L316.68 76.84 L318.14 87.60 L319.61 97.59 L321.07 106.87 L322.54 115.49 L324.00 123.50 L325.46 130.94 L326.93 137.84 L328.39 144.26 L329.86 150.22 L331.32 155.76 L332.78 160.90 L334.25 165.68 L335.71 170.12 L337.18 174.24 L338.64 178.07 L340.11 181.63 L341.57 184.93 L343.03 188.00 L344.50 190.85 L345.96 193.50 L347.43 195.96 L348.89 198.24 L350.36 200.37 L351.82 202.34 L353.28 204.17 L354.75 205.87 L356.21 207.45 L357.68 208.92 L359.14 210.28 L360.61 211.55 L362.07 212.72 L363.53 213.81 L365.00 214.83 L366.46 215.77 L367.93 216.65 L369.39 217.46 L370.86 218.22 L372.32 218.92 L373.78 219.57 L375.25 220.18 L376.71 220.74 L378.18 221.26 L379.64 221.75 L381.11 222.20 L382.57 222.61 L384.03 223.00 L385.50 223.36 L386.96 223.70 L388.43 224.01 L389.89 224.30 L391.35 224.57 L392.82 224.82 L394.28 225.05 L395.75 225.27 L397.21 225.47 L398.68 225.65 L400.14 225.83 L401.60 225.99 L403.07 226.14 L404.53 226.27 L406.00 226.40 L407.46 226.52 L408.93 226.63 L410.39 226.72 L411.85 226.81 L413.32 226.88 L414.78 226.94 L416.25 226.98 L417.71 227.00 L419.18 226.99 L420.64 226.95 L422.10 226.88 L423.57 226.76 L425.03 226.60 L426.50 226.38 L427.96 226.10 L429.43 225.76 L430.89 225.35 L432.35 224.86 L433.82 224.29 L435.28 223.65 L436.75 222.92 L438.21 222.10 L439.67 221.20 L441.14 220.22 L442.60 219.15 L444.07 218.00 L445.53 216.77 L447.00 215.46 L448.46 214.07 L449.92 212.61 L451.39 211.07 L452.85 209.47 L454.32 207.79 L455.78 206.06 L457.25 204.26 L458.71 202.41 L460.17 200.50 L461.64 198.54 L463.10 196.53 L464.57 194.48 L466.03 192.38 L467.50 190.24 L468.96 188.06 L470.42 185.84 L471.89 183.59 L473.35 181.31 L474.82 178.99 L476.28 176.65 L477.75 174.29 L479.21 171.89 L480.67 169.48 L482.14 167.04 L483.60 164.58 L485.07 162.11 L486.53 159.62 L487.99 157.11 L489.46 154.58 L490.92 152.04 L492.39 149.49 L493.85 146.92 L495.32 144.34 L496.78 141.76 L498.24 139.16 L499.71 136.55 L501.17 133.94 L502.64 131.31 L504.10 128.68 L505.57 126.04 L507.03 123.40 L508.49 120.75 L509.96 118.09 L511.42 115.43 L512.89 112.76 L514.35 110.09 L515.82 107.41 L517.28 104.73 L518.74 102.05 L520.21 99.36 L521.67 96.67 L523.14 93.98 L524.60 91.28 L526.07 88.59 L527.53 85.89 L528.99 83.18 L530.46 80.48 L531.92 77.77 L533.39 75.06 L534.85 72.35 L536.32 69.64 L537.78 66.93 L539.24 64.21 L540.71 61.50 L542.17 58.78 L543.64 56.06 L545.10 53.35 L546.56 50.63 L548.03 47.91 L549.49 45.18 L550.96 42.46 L552.42 39.74 L553.89 37.02 L555.35 34.29 L556.81 31.57 L558.28 28.84 L559.74 26.12 L561.21 23.39 L562.67 20.67 L564.14 17.94 L565.60 15.21" stroke="#ff66cc" stroke-dasharray="2.2 1.8"/>
</g>
<g stroke="#727272" stroke-width="1.05" fill="none">
<rect x="306.50" y="5.40" width="256.10" height="255.90"/>
<path d="M315.54 261.30v-2.1M315.54 5.40v2.1M324.68 261.30v-2.1M324.68 5.40v2.1M333.82 261.30v-2.1M333.82 5.40v2.1M342.96 261.30v-2.1M342.96 5.40v2.1M352.10 261.30v-3.6M352.10 5.40v3.6M361.24 261.30v-2.1M361.24 5.40v2.1M370.38 261.30v-2.1M370.38 5.40v2.1M379.52 261.30v-2.1M379.52 5.40v2.1M388.66 261.30v-2.1M388.66 5.40v2.1M397.80 261.30v-3.6M397.80 5.40v3.6M406.94 261.30v-2.1M406.94 5.40v2.1M416.08 261.30v-2.1M416.08 5.40v2.1M425.22 261.30v-2.1M425.22 5.40v2.1M434.36 261.30v-2.1M434.36 5.40v2.1M443.50 261.30v-3.6M443.50 5.40v3.6M452.64 261.30v-2.1M452.64 5.40v2.1M461.78 261.30v-2.1M461.78 5.40v2.1M470.92 261.30v-2.1M470.92 5.40v2.1M480.06 261.30v-2.1M480.06 5.40v2.1M489.20 261.30v-3.6M489.20 5.40v3.6M498.34 261.30v-2.1M498.34 5.40v2.1M507.48 261.30v-2.1M507.48 5.40v2.1M516.62 261.30v-2.1M516.62 5.40v2.1M525.76 261.30v-2.1M525.76 5.40v2.1M534.90 261.30v-3.6M534.90 5.40v3.6M544.04 261.30v-2.1M544.04 5.40v2.1M553.18 261.30v-2.1M553.18 5.40v2.1M562.32 261.30v-2.1M562.32 5.40v2.1M306.50 260.85h3.6M562.60 260.85h-3.6M306.50 252.33h2.1M562.60 252.33h-2.1M306.50 243.80h2.1M562.60 243.80h-2.1M306.50 235.28h2.1M562.60 235.28h-2.1M306.50 226.75h2.1M562.60 226.75h-2.1M306.50 218.22h3.6M562.60 218.22h-3.6M306.50 209.70h2.1M562.60 209.70h-2.1M306.50 201.17h2.1M562.60 201.17h-2.1M306.50 192.65h2.1M562.60 192.65h-2.1M306.50 184.13h2.1M562.60 184.13h-2.1M306.50 175.60h3.6M562.60 175.60h-3.6M306.50 167.08h2.1M562.60 167.08h-2.1M306.50 158.55h2.1M562.60 158.55h-2.1M306.50 150.03h2.1M562.60 150.03h-2.1M306.50 141.50h2.1M562.60 141.50h-2.1M306.50 132.97h3.6M562.60 132.97h-3.6M306.50 124.45h2.1M562.60 124.45h-2.1M306.50 115.93h2.1M562.60 115.93h-2.1M306.50 107.40h2.1M562.60 107.40h-2.1M306.50 98.88h2.1M562.60 98.88h-2.1M306.50 90.35h3.6M562.60 90.35h-3.6M306.50 81.83h2.1M562.60 81.83h-2.1M306.50 73.30h2.1M562.60 73.30h-2.1M306.50 64.78h2.1M562.60 64.78h-2.1M306.50 56.25h2.1M562.60 56.25h-2.1M306.50 47.73h3.6M562.60 47.73h-3.6M306.50 39.20h2.1M562.60 39.20h-2.1M306.50 30.68h2.1M562.60 30.68h-2.1M306.50 22.15h2.1M562.60 22.15h-2.1M306.50 13.63h2.1M562.60 13.63h-2.1"/>
</g>
<g stroke="#9a9a9a" stroke-width="0.75" stroke-dasharray="0.9 3.9" fill="none">
<path d="M626.10 5.10 V261.30"/>
<path d="M671.90 5.10 V261.30"/>
<path d="M717.70 5.10 V261.30"/>
<path d="M763.50 5.10 V261.30"/>
<path d="M809.30 5.10 V261.30"/>
<path d="M580.30 54.40 H836.30"/>
<path d="M580.30 103.60 H836.30"/>
<path d="M580.30 152.80 H836.30"/>
<path d="M580.30 202.00 H836.30"/>
</g>
<g clip-path="url(#c3)" fill="none" stroke-width="1.55" stroke-linejoin="round">
<path d="M591.94 -52.72 L593.40 -40.93 L594.86 -29.98 L596.33 -19.81 L597.79 -10.35 L599.26 -1.57 L600.72 6.59 L602.18 14.16 L603.65 21.21 L605.11 27.75 L606.57 33.83 L608.04 39.47 L609.50 44.72 L610.96 49.59 L612.43 54.12 L613.89 58.33 L615.36 62.24 L616.82 65.87 L618.28 69.24 L619.75 72.38 L621.21 75.29 L622.67 77.99 L624.14 80.51 L625.60 82.84 L627.07 85.01 L628.53 87.03 L629.99 88.90 L631.46 90.64 L632.92 92.26 L634.38 93.76 L635.85 95.15 L637.31 96.45 L638.77 97.65 L640.24 98.77 L641.70 99.81 L643.17 100.78 L644.63 101.67 L646.09 102.51 L647.56 103.28 L649.02 104.00 L650.48 104.67 L651.95 105.29 L653.41 105.87 L654.88 106.40 L656.34 106.90 L657.80 107.36 L659.27 107.79 L660.73 108.19 L662.19 108.56 L663.66 108.91 L665.12 109.23 L666.58 109.53 L668.05 109.80 L669.51 110.06 L670.98 110.30 L672.44 110.52 L673.90 110.73 L675.37 110.92 L676.83 111.09 L678.29 111.26 L679.76 111.41 L681.22 111.55 L682.69 111.68 L684.15 111.80 L685.61 111.91 L687.08 112.00 L688.54 112.07 L690.00 112.13 L691.47 112.16 L692.93 112.17 L694.39 112.15 L695.86 112.08 L697.32 111.98 L698.79 111.81 L700.25 111.59 L701.71 111.31 L703.18 110.95 L704.64 110.51 L706.10 109.99 L707.57 109.38 L709.03 108.67 L710.50 107.87 L711.96 106.98 L713.42 105.98 L714.89 104.89 L716.35 103.69 L717.81 102.40 L719.28 101.01 L720.74 99.53 L722.21 97.95 L723.67 96.29 L725.13 94.53 L726.60 92.70 L728.06 90.78 L729.52 88.79 L730.99 86.72 L732.45 84.59 L733.91 82.39 L735.38 80.12 L736.84 77.80 L738.31 75.42 L739.77 72.98 L741.23 70.50 L742.70 67.97 L744.16 65.39 L745.62 62.77 L747.09 60.11 L748.55 57.42 L750.02 54.69 L751.48 51.93 L752.94 49.14 L754.41 46.32 L755.87 43.47 L757.33 40.60 L758.80 37.71 L760.26 34.79 L761.72 31.86 L763.19 28.90 L764.65 25.93 L766.12 22.94 L767.58 19.93 L769.04 16.92 L770.51 13.88 L771.97 10.84 L773.43 7.78 L774.90 4.72 L776.36 1.64 L777.83 -1.45 L779.29 -4.54 L780.75 -7.64 L782.22 -10.75 L783.68 -13.87 L785.14 -16.99 L786.61 -20.12 L788.07 -23.26 L789.53 -26.40 L791.00 -29.54 L792.46 -32.69 L793.93 -35.85 L795.39 -39.01 L796.85 -42.17 L798.32 -45.33 L799.78 -48.50 L801.24 -51.67 L802.71 -54.85" stroke="#0a0ab4"/>
<path d="M589.01 -50.70 L590.47 -37.07 L591.94 -24.41 L593.40 -12.64 L594.86 -1.71 L596.33 8.44 L597.79 17.87 L599.26 26.64 L600.72 34.78 L602.18 42.35 L603.65 49.38 L605.11 55.91 L606.57 61.97 L608.04 67.61 L609.50 72.85 L610.96 77.71 L612.43 82.23 L613.89 86.43 L615.36 90.33 L616.82 93.96 L618.28 97.32 L619.75 100.45 L621.21 103.36 L622.67 106.06 L624.14 108.57 L625.60 110.90 L627.07 113.06 L628.53 115.07 L629.99 116.94 L631.46 118.68 L632.92 120.29 L634.38 121.79 L635.85 123.18 L637.31 124.48 L638.77 125.68 L640.24 126.80 L641.70 127.83 L643.17 128.80 L644.63 129.69 L646.09 130.53 L647.56 131.30 L649.02 132.02 L650.48 132.68 L651.95 133.30 L653.41 133.88 L654.88 134.41 L656.34 134.91 L657.80 135.37 L659.27 135.80 L660.73 136.20 L662.19 136.57 L663.66 136.91 L665.12 137.23 L666.58 137.53 L668.05 137.81 L669.51 138.06 L670.98 138.30 L672.44 138.52 L673.90 138.73 L675.37 138.92 L676.83 139.10 L678.29 139.26 L679.76 139.41 L681.22 139.55 L682.69 139.68 L684.15 139.79 L685.61 139.89 L687.08 139.97 L688.54 140.04 L690.00 140.08 L691.47 140.09 L692.93 140.07 L694.39 140.01 L695.86 139.90 L697.32 139.75 L698.79 139.53 L700.25 139.25 L701.71 138.89 L703.18 138.46 L704.64 137.94 L706.10 137.34 L707.57 136.64 L709.03 135.85 L710.50 134.97 L711.96 133.98 L713.42 132.90 L714.89 131.72 L716.35 130.45 L717.81 129.08 L719.28 127.62 L720.74 126.07 L722.21 124.43 L723.67 122.70 L725.13 120.90 L726.60 119.01 L728.06 117.06 L729.52 115.03 L730.99 112.93 L732.45 110.76 L733.91 108.54 L735.38 106.26 L736.84 103.92 L738.31 101.53 L739.77 99.09 L741.23 96.61 L742.70 94.08 L744.16 91.51 L745.62 88.90 L747.09 86.26 L748.55 83.58 L750.02 80.88 L751.48 78.14 L752.94 75.37 L754.41 72.58 L755.87 69.77 L757.33 66.93 L758.80 64.07 L760.26 61.19 L761.72 58.29 L763.19 55.38 L764.65 52.45 L766.12 49.50 L767.58 46.54 L769.04 43.57 L770.51 40.59 L771.97 37.59 L773.43 34.59 L774.90 31.57 L776.36 28.55 L777.83 25.52 L779.29 22.48 L780.75 19.43 L782.22 16.37 L783.68 13.31 L785.14 10.24 L786.61 7.17 L788.07 4.09 L789.53 1.01 L791.00 -2.07 L792.46 -5.16 L793.93 -8.26 L795.39 -11.36 L796.85 -14.46 L798.32 -17.56 L799.78 -20.67 L801.24 -23.78 L802.71 -26.89 L804.17 -30.01 L805.64 -33.12 L807.10 -36.24 L808.56 -39.36 L810.03 -42.49 L811.49 -45.61 L812.95 -48.74 L814.42 -51.86" stroke="#0a0ab4" stroke-dasharray="2.7 2.1"/>
<path d="M589.01 -47.28 L590.47 -33.36 L591.94 -20.42 L593.40 -8.40 L594.86 2.77 L596.33 13.15 L597.79 22.79 L599.26 31.74 L600.72 40.06 L602.18 47.79 L603.65 54.98 L605.11 61.65 L606.57 67.85 L608.04 73.61 L609.50 78.96 L610.96 83.93 L612.43 88.55 L613.89 92.84 L615.36 96.82 L616.82 100.53 L618.28 103.97 L619.75 107.16 L621.21 110.13 L622.67 112.89 L624.14 115.46 L625.60 117.84 L627.07 120.05 L628.53 122.11 L629.99 124.02 L631.46 125.79 L632.92 127.44 L634.38 128.97 L635.85 130.39 L637.31 131.72 L638.77 132.94 L640.24 134.08 L641.70 135.14 L643.17 136.13 L644.63 137.04 L646.09 137.89 L647.56 138.68 L649.02 139.42 L650.48 140.10 L651.95 140.73 L653.41 141.32 L654.88 141.87 L656.34 142.38 L657.80 142.85 L659.27 143.29 L660.73 143.69 L662.19 144.07 L663.66 144.42 L665.12 144.75 L666.58 145.05 L668.05 145.33 L669.51 145.60 L670.98 145.84 L672.44 146.07 L673.90 146.28 L675.37 146.47 L676.83 146.65 L678.29 146.82 L679.76 146.97 L681.22 147.12 L682.69 147.25 L684.15 147.36 L685.61 147.47 L687.08 147.55 L688.54 147.62 L690.00 147.67 L691.47 147.69 L692.93 147.67 L694.39 147.62 L695.86 147.53 L697.32 147.38 L698.79 147.18 L700.25 146.91 L701.71 146.57 L703.18 146.16 L704.64 145.66 L706.10 145.07 L707.57 144.39 L709.03 143.62 L710.50 142.76 L711.96 141.80 L713.42 140.73 L714.89 139.58 L716.35 138.32 L717.81 136.97 L719.28 135.53 L720.74 134.00 L722.21 132.37 L723.67 130.67 L725.13 128.88 L726.60 127.01 L728.06 125.07 L729.52 123.05 L730.99 120.97 L732.45 118.82 L733.91 116.60 L735.38 114.33 L736.84 112.01 L738.31 109.63 L739.77 107.20 L741.23 104.72 L742.70 102.20 L744.16 99.64 L745.62 97.04 L747.09 94.41 L748.55 91.74 L750.02 89.04 L751.48 86.31 L752.94 83.55 L754.41 80.76 L755.87 77.95 L757.33 75.12 L758.80 72.26 L760.26 69.39 L761.72 66.49 L763.19 63.58 L764.65 60.66 L766.12 57.71 L767.58 54.76 L769.04 51.79 L770.51 48.81 L771.97 45.81 L773.43 42.81 L774.90 39.80 L776.36 36.77 L777.83 33.74 L779.29 30.70 L780.75 27.66 L782.22 24.60 L783.68 21.54 L785.14 18.48 L786.61 15.41 L788.07 12.33 L789.53 9.25 L791.00 6.16 L792.46 3.07 L793.93 -0.02 L795.39 -3.12 L796.85 -6.22 L798.32 -9.32 L799.78 -12.43 L801.24 -15.54 L802.71 -18.65 L804.17 -21.76 L805.64 -24.88 L807.10 -28.00 L808.56 -31.12 L810.03 -34.24 L811.49 -37.36 L812.95 -40.49 L814.42 -43.62 L815.88 -46.74 L817.34 -49.87 L818.81 -53.00" stroke="#ff2020"/>
<path d="M586.08 -46.53 L587.55 -30.72 L589.01 -16.04 L590.47 -2.39 L591.94 10.29 L593.40 22.06 L594.86 33.00 L596.33 43.17 L597.79 52.61 L599.26 61.39 L600.72 69.54 L602.18 77.11 L603.65 84.15 L605.11 90.68 L606.57 96.76 L608.04 102.40 L609.50 107.64 L610.96 112.51 L612.43 117.04 L613.89 121.24 L615.36 125.15 L616.82 128.77 L618.28 132.14 L619.75 135.28 L621.21 138.19 L622.67 140.89 L624.14 143.40 L625.60 145.73 L627.07 147.90 L628.53 149.92 L629.99 151.79 L631.46 153.52 L632.92 155.14 L634.38 156.64 L635.85 158.03 L637.31 159.33 L638.77 160.53 L640.24 161.65 L641.70 162.69 L643.17 163.65 L644.63 164.55 L646.09 165.38 L647.56 166.16 L649.02 166.87 L650.48 167.54 L651.95 168.16 L653.41 168.74 L654.88 169.27 L656.34 169.77 L657.80 170.23 L659.27 170.66 L660.73 171.06 L662.19 171.43 L663.66 171.78 L665.12 172.10 L666.58 172.40 L668.05 172.67 L669.51 172.93 L670.98 173.17 L672.44 173.39 L673.90 173.59 L675.37 173.78 L676.83 173.96 L678.29 174.13 L679.76 174.28 L681.22 174.42 L682.69 174.55 L684.15 174.66 L685.61 174.77 L687.08 174.86 L688.54 174.93 L690.00 174.98 L691.47 175.01 L692.93 175.00 L694.39 174.97 L695.86 174.89 L697.32 174.76 L698.79 174.58 L700.25 174.34 L701.71 174.03 L703.18 173.64 L704.64 173.18 L706.10 172.63 L707.57 171.99 L709.03 171.26 L710.50 170.43 L711.96 169.51 L713.42 168.49 L714.89 167.38 L716.35 166.16 L717.81 164.85 L719.28 163.45 L720.74 161.95 L722.21 160.37 L723.67 158.70 L725.13 156.94 L726.60 155.11 L728.06 153.20 L729.52 151.21 L730.99 149.16 L732.45 147.04 L733.91 144.85 L735.38 142.60 L736.84 140.30 L738.31 137.94 L739.77 135.54 L741.23 133.08 L742.70 130.58 L744.16 128.04 L745.62 125.45 L747.09 122.83 L748.55 120.18 L750.02 117.49 L751.48 114.77 L752.94 112.02 L754.41 109.25 L755.87 106.45 L757.33 103.62 L758.80 100.78 L760.26 97.91 L761.72 95.03 L763.19 92.12 L764.65 89.20 L766.12 86.27 L767.58 83.32 L769.04 80.35 L770.51 77.38 L771.97 74.39 L773.43 71.39 L774.90 68.38 L776.36 65.36 L777.83 62.33 L779.29 59.30 L780.75 56.26 L782.22 53.20 L783.68 50.15 L785.14 47.08 L786.61 44.02 L788.07 40.94 L789.53 37.86 L791.00 34.78 L792.46 31.69 L793.93 28.60 L795.39 25.50 L796.85 22.40 L798.32 19.30 L799.78 16.19 L801.24 13.09 L802.71 9.98 L804.17 6.86 L805.64 3.75 L807.10 0.63 L808.56 -2.49 L810.03 -5.61 L811.49 -8.73 L812.95 -11.86 L814.42 -14.98 L815.88 -18.11 L817.34 -21.24 L818.81 -24.37 L820.27 -27.50 L821.74 -30.63 L823.20 -33.76 L824.66 -36.90 L826.13 -40.03 L827.59 -43.17 L829.05 -46.30 L830.52 -49.44 L831.98 -52.58" stroke="#ff2020" stroke-dasharray="2.7 2.1"/>
<path d="M584.62 -47.04 L586.08 -29.96 L587.55 -14.10 L589.01 0.64 L590.47 14.33 L591.94 27.05 L593.40 38.87 L594.86 49.85 L596.33 60.05 L597.79 69.53 L599.26 78.33 L600.72 86.51 L602.18 94.11 L603.65 101.17 L605.11 107.73 L606.57 113.83 L608.04 119.49 L609.50 124.75 L610.96 129.64 L612.43 134.18 L613.89 138.40 L615.36 142.32 L616.82 145.96 L618.28 149.34 L619.75 152.48 L621.21 155.40 L622.67 158.12 L624.14 160.64 L625.60 162.98 L627.07 165.15 L628.53 167.17 L629.99 169.05 L631.46 170.80 L632.92 172.42 L634.38 173.92 L635.85 175.32 L637.31 176.62 L638.77 177.83 L640.24 178.95 L641.70 179.99 L643.17 180.96 L644.63 181.86 L646.09 182.70 L647.56 183.47 L649.02 184.19 L650.48 184.86 L651.95 185.49 L653.41 186.07 L654.88 186.60 L656.34 187.10 L657.80 187.57 L659.27 188.00 L660.73 188.40 L662.19 188.77 L663.66 189.12 L665.12 189.44 L666.58 189.73 L668.05 190.01 L669.51 190.27 L670.98 190.51 L672.44 190.73 L673.90 190.94 L675.37 191.13 L676.83 191.31 L678.29 191.47 L679.76 191.62 L681.22 191.76 L682.69 191.89 L684.15 192.01 L685.61 192.11 L687.08 192.19 L688.54 192.26 L690.00 192.30 L691.47 192.32 L692.93 192.30 L694.39 192.25 L695.86 192.15 L697.32 192.00 L698.79 191.79 L700.25 191.51 L701.71 191.17 L703.18 190.75 L704.64 190.24 L706.10 189.65 L707.57 188.97 L709.03 188.19 L710.50 187.32 L711.96 186.35 L713.42 185.28 L714.89 184.11 L716.35 182.85 L717.81 181.50 L719.28 180.05 L720.74 178.51 L722.21 176.88 L723.67 175.17 L725.13 173.37 L726.60 171.50 L728.06 169.55 L729.52 167.53 L730.99 165.44 L732.45 163.29 L733.91 161.07 L735.38 158.80 L736.84 156.47 L738.31 154.08 L739.77 151.65 L741.23 149.17 L742.70 146.65 L744.16 144.09 L745.62 141.48 L747.09 138.85 L748.55 136.17 L750.02 133.47 L751.48 130.74 L752.94 127.98 L754.41 125.19 L755.87 122.38 L757.33 119.54 L758.80 116.68 L760.26 113.81 L761.72 110.91 L763.19 108.00 L764.65 105.07 L766.12 102.13 L767.58 99.17 L769.04 96.20 L770.51 93.22 L771.97 90.23 L773.43 87.22 L774.90 84.21 L776.36 81.19 L777.83 78.15 L779.29 75.11 L780.75 72.07 L782.22 69.01 L783.68 65.95 L785.14 62.89 L786.61 59.82 L788.07 56.74 L789.53 53.66 L791.00 50.57 L792.46 47.48 L793.93 44.39 L795.39 41.29 L796.85 38.19 L798.32 35.08 L799.78 31.98 L801.24 28.87 L802.71 25.76 L804.17 22.64 L805.64 19.53 L807.10 16.41 L808.56 13.29 L810.03 10.16 L811.49 7.04 L812.95 3.92 L814.42 0.79 L815.88 -2.34 L817.34 -5.47 L818.81 -8.60 L820.27 -11.73 L821.74 -14.86 L823.20 -17.99 L824.66 -21.13 L826.13 -24.26 L827.59 -27.40 L829.05 -30.53 L830.52 -33.67 L831.98 -36.81 L833.45 -39.95 L834.91 -43.08 L836.37 -46.22 L837.84 -49.36 L839.30 -52.50" stroke="#08aa08"/>
<path d="M583.15 -49.58 L584.62 -31.09 L586.08 -13.91 L587.55 2.05 L589.01 16.88 L590.47 30.65 L591.94 43.45 L593.40 55.34 L594.86 66.39 L596.33 76.65 L597.79 86.18 L599.26 95.04 L600.72 103.27 L602.18 110.92 L603.65 118.02 L605.11 124.62 L606.57 130.75 L608.04 136.45 L609.50 141.74 L610.96 146.66 L612.43 151.23 L613.89 155.47 L615.36 159.41 L616.82 163.08 L618.28 166.48 L619.75 169.64 L621.21 172.58 L622.67 175.31 L624.14 177.84 L625.60 180.20 L627.07 182.39 L628.53 184.42 L629.99 186.31 L631.46 188.07 L632.92 189.70 L634.38 191.21 L635.85 192.62 L637.31 193.93 L638.77 195.14 L640.24 196.27 L641.70 197.32 L643.17 198.29 L644.63 199.20 L646.09 200.04 L647.56 200.82 L649.02 201.54 L650.48 202.22 L651.95 202.84 L653.41 203.43 L654.88 203.97 L656.34 204.47 L657.80 204.94 L659.27 205.37 L660.73 205.77 L662.19 206.15 L663.66 206.49 L665.12 206.82 L666.58 207.12 L668.05 207.40 L669.51 207.66 L670.98 207.90 L672.44 208.12 L673.90 208.33 L675.37 208.52 L676.83 208.70 L678.29 208.86 L679.76 209.02 L681.22 209.16 L682.69 209.29 L684.15 209.40 L685.61 209.50 L687.08 209.58 L688.54 209.64 L690.00 209.68 L691.47 209.69 L692.93 209.67 L694.39 209.60 L695.86 209.49 L697.32 209.32 L698.79 209.10 L700.25 208.81 L701.71 208.44 L703.18 207.99 L704.64 207.46 L706.10 206.85 L707.57 206.14 L709.03 205.33 L710.50 204.43 L711.96 203.43 L713.42 202.33 L714.89 201.14 L716.35 199.85 L717.81 198.47 L719.28 196.99 L720.74 195.43 L722.21 193.77 L723.67 192.04 L725.13 190.22 L726.60 188.32 L728.06 186.35 L729.52 184.31 L730.99 182.20 L732.45 180.03 L733.91 177.79 L735.38 175.50 L736.84 173.16 L738.31 170.76 L739.77 168.31 L741.23 165.82 L742.70 163.29 L744.16 160.71 L745.62 158.10 L747.09 155.45 L748.55 152.77 L750.02 150.06 L751.48 147.31 L752.94 144.54 L754.41 141.75 L755.87 138.93 L757.33 136.09 L758.80 133.23 L760.26 130.34 L761.72 127.44 L763.19 124.53 L764.65 121.59 L766.12 118.65 L767.58 115.69 L769.04 112.71 L770.51 109.73 L771.97 106.73 L773.43 103.72 L774.90 100.71 L776.36 97.68 L777.83 94.65 L779.29 91.60 L780.75 88.56 L782.22 85.50 L783.68 82.44 L785.14 79.37 L786.61 76.30 L788.07 73.22 L789.53 70.14 L791.00 67.05 L792.46 63.96 L793.93 60.86 L795.39 57.76 L796.85 54.66 L798.32 51.56 L799.78 48.45 L801.24 45.34 L802.71 42.23 L804.17 39.11 L805.64 35.99 L807.10 32.87 L808.56 29.75 L810.03 26.63 L811.49 23.51 L812.95 20.38 L814.42 17.25 L815.88 14.13 L817.34 11.00 L818.81 7.87 L820.27 4.73 L821.74 1.60 L823.20 -1.53 L824.66 -4.67 L826.13 -7.80 L827.59 -10.94 L829.05 -14.07 L830.52 -17.21 L831.98 -20.35 L833.45 -23.48 L834.91 -26.62 L836.37 -29.76 L837.84 -32.90 L839.30 -36.04" stroke="#08aa08" stroke-dasharray="2.7 2.1"/>
<path d="M581.69 -41.45 L583.15 -21.87 L584.62 -3.68 L586.08 13.23 L587.55 28.93 L589.01 43.52 L590.47 57.08 L591.94 69.67 L593.40 81.37 L594.86 92.24 L596.33 102.34 L597.79 111.72 L599.26 120.44 L600.72 128.54 L602.18 136.06 L603.65 143.05 L605.11 149.55 L606.57 155.58 L608.04 161.19 L609.50 166.39 L610.96 171.23 L612.43 175.73 L613.89 179.90 L615.36 183.78 L616.82 187.39 L618.28 190.74 L619.75 193.85 L621.21 196.74 L622.67 199.42 L624.14 201.92 L625.60 204.24 L627.07 206.39 L628.53 208.39 L629.99 210.25 L631.46 211.98 L632.92 213.58 L634.38 215.07 L635.85 216.46 L637.31 217.74 L638.77 218.94 L640.24 220.05 L641.70 221.08 L643.17 222.04 L644.63 222.93 L646.09 223.76 L647.56 224.53 L649.02 225.24 L650.48 225.90 L651.95 226.52 L653.41 227.09 L654.88 227.63 L656.34 228.12 L657.80 228.58 L659.27 229.01 L660.73 229.40 L662.19 229.77 L663.66 230.11 L665.12 230.43 L666.58 230.73 L668.05 231.00 L669.51 231.26 L670.98 231.49 L672.44 231.71 L673.90 231.92 L675.37 232.11 L676.83 232.28 L678.29 232.45 L679.76 232.60 L681.22 232.74 L682.69 232.86 L684.15 232.98 L685.61 233.08 L687.08 233.17 L688.54 233.23 L690.00 233.28 L691.47 233.30 L692.93 233.30 L694.39 233.25 L695.86 233.17 L697.32 233.03 L698.79 232.84 L700.25 232.59 L701.71 232.26 L703.18 231.86 L704.64 231.38 L706.10 230.82 L707.57 230.16 L709.03 229.41 L710.50 228.57 L711.96 227.63 L713.42 226.59 L714.89 225.46 L716.35 224.23 L717.81 222.90 L719.28 221.48 L720.74 219.97 L722.21 218.37 L723.67 216.68 L725.13 214.91 L726.60 213.06 L728.06 211.14 L729.52 209.14 L730.99 207.07 L732.45 204.93 L733.91 202.74 L735.38 200.48 L736.84 198.17 L738.31 195.80 L739.77 193.38 L741.23 190.92 L742.70 188.41 L744.16 185.86 L745.62 183.27 L747.09 180.64 L748.55 177.98 L750.02 175.29 L751.48 172.56 L752.94 169.81 L754.41 167.03 L755.87 164.22 L757.33 161.40 L758.80 158.55 L760.26 155.68 L761.72 152.79 L763.19 149.88 L764.65 146.96 L766.12 144.02 L767.58 141.07 L769.04 138.10 L770.51 135.12 L771.97 132.13 L773.43 129.13 L774.90 126.12 L776.36 123.10 L777.83 120.07 L779.29 117.03 L780.75 113.99 L782.22 110.94 L783.68 107.88 L785.14 104.81 L786.61 101.74 L788.07 98.67 L789.53 95.59 L791.00 92.50 L792.46 89.42 L793.93 86.32 L795.39 83.23 L796.85 80.13 L798.32 77.02 L799.78 73.92 L801.24 70.81 L802.71 67.70 L804.17 64.58 L805.64 61.47 L807.10 58.35 L808.56 55.23 L810.03 52.11 L811.49 48.98 L812.95 45.86 L814.42 42.73 L815.88 39.61 L817.34 36.48 L818.81 33.35 L820.27 30.22 L821.74 27.09 L823.20 23.95 L824.66 20.82 L826.13 17.68 L827.59 14.55 L829.05 11.41 L830.52 8.28 L831.98 5.14 L833.45 2.00 L834.91 -1.14 L836.37 -4.27 L837.84 -7.41 L839.30 -10.55" stroke="#ff66cc"/>
<path d="M580.23 -37.92 L581.69 -16.85 L583.15 2.72 L584.62 20.91 L586.08 37.80 L587.55 53.50 L589.01 68.08 L590.47 81.63 L591.94 94.22 L593.40 105.91 L594.86 116.78 L596.33 126.87 L597.79 136.25 L599.26 144.96 L600.72 153.05 L602.18 160.57 L603.65 167.56 L605.11 174.05 L606.57 180.08 L608.04 185.69 L609.50 190.89 L610.96 195.73 L612.43 200.22 L613.89 204.39 L615.36 208.27 L616.82 211.87 L618.28 215.22 L619.75 218.33 L621.21 221.22 L622.67 223.90 L624.14 226.40 L625.60 228.72 L627.07 230.87 L628.53 232.87 L629.99 234.73 L631.46 236.45 L632.92 238.06 L634.38 239.55 L635.85 240.93 L637.31 242.22 L638.77 243.41 L640.24 244.52 L641.70 245.55 L643.17 246.51 L644.63 247.40 L646.09 248.23 L647.56 248.99 L649.02 249.71 L650.48 250.37 L651.95 250.99 L653.41 251.56 L654.88 252.09 L656.34 252.59 L657.80 253.04 L659.27 253.47 L660.73 253.87 L662.19 254.24 L663.66 254.58 L665.12 254.90 L666.58 255.19 L668.05 255.46 L669.51 255.72 L670.98 255.96 L672.44 256.18 L673.90 256.38 L675.37 256.57 L676.83 256.75 L678.29 256.91 L679.76 257.06 L681.22 257.20 L682.69 257.32 L684.15 257.43 L685.61 257.53 L687.08 257.61 L688.54 257.67 L690.00 257.71 L691.47 257.71 L692.93 257.69 L694.39 257.62 L695.86 257.51 L697.32 257.34 L698.79 257.11 L700.25 256.81 L701.71 256.44 L703.18 255.99 L704.64 255.46 L706.10 254.84 L707.57 254.13 L709.03 253.32 L710.50 252.41 L711.96 251.41 L713.42 250.31 L714.89 249.11 L716.35 247.82 L717.81 246.43 L719.28 244.95 L720.74 243.38 L722.21 241.73 L723.67 239.99 L725.13 238.17 L726.60 236.27 L728.06 234.30 L729.52 232.25 L730.99 230.14 L732.45 227.97 L733.91 225.73 L735.38 223.44 L736.84 221.09 L738.31 218.69 L739.77 216.24 L741.23 213.75 L742.70 211.21 L744.16 208.63 L745.62 206.02 L747.09 203.37 L748.55 200.69 L750.02 197.97 L751.48 195.23 L752.94 192.46 L754.41 189.66 L755.87 186.84 L757.33 184.00 L758.80 181.14 L760.26 178.26 L761.72 175.36 L763.19 172.44 L764.65 169.51 L766.12 166.56 L767.58 163.60 L769.04 160.62 L770.51 157.64 L771.97 154.64 L773.43 151.63 L774.90 148.61 L776.36 145.59 L777.83 142.55 L779.29 139.51 L780.75 136.46 L782.22 133.41 L783.68 130.34 L785.14 127.28 L786.61 124.20 L788.07 121.12 L789.53 118.04 L791.00 114.95 L792.46 111.86 L793.93 108.77 L795.39 105.67 L796.85 102.57 L798.32 99.46 L799.78 96.35 L801.24 93.24 L802.71 90.13 L804.17 87.01 L805.64 83.90 L807.10 80.78 L808.56 77.66 L810.03 74.53 L811.49 71.41 L812.95 68.29 L814.42 65.16 L815.88 62.03 L817.34 58.90 L818.81 55.77 L820.27 52.64 L821.74 49.51 L823.20 46.37 L824.66 43.24 L826.13 40.10 L827.59 36.97 L829.05 33.83 L830.52 30.70 L831.98 27.56 L833.45 24.42 L834.91 21.28 L836.37 18.14 L837.84 15.00 L839.30 11.86" stroke="#ff66cc" stroke-dasharray="2.7 2.1"/>
</g>
<g stroke="#727272" stroke-width="1.05" fill="none">
<rect x="580.30" y="5.10" width="256.00" height="256.20"/>
<path d="M580.30 261.30v-3.6M580.30 5.10v3.6M589.46 261.30v-2.1M589.46 5.10v2.1M598.62 261.30v-2.1M598.62 5.10v2.1M607.78 261.30v-2.1M607.78 5.10v2.1M616.94 261.30v-2.1M616.94 5.10v2.1M626.10 261.30v-3.6M626.10 5.10v3.6M635.26 261.30v-2.1M635.26 5.10v2.1M644.42 261.30v-2.1M644.42 5.10v2.1M653.58 261.30v-2.1M653.58 5.10v2.1M662.74 261.30v-2.1M662.74 5.10v2.1M671.90 261.30v-3.6M671.90 5.10v3.6M681.06 261.30v-2.1M681.06 5.10v2.1M690.22 261.30v-2.1M690.22 5.10v2.1M699.38 261.30v-2.1M699.38 5.10v2.1M708.54 261.30v-2.1M708.54 5.10v2.1M717.70 261.30v-3.6M717.70 5.10v3.6M726.86 261.30v-2.1M726.86 5.10v2.1M736.02 261.30v-2.1M736.02 5.10v2.1M745.18 261.30v-2.1M745.18 5.10v2.1M754.34 261.30v-2.1M754.34 5.10v2.1M763.50 261.30v-3.6M763.50 5.10v3.6M772.66 261.30v-2.1M772.66 5.10v2.1M781.82 261.30v-2.1M781.82 5.10v2.1M790.98 261.30v-2.1M790.98 5.10v2.1M800.14 261.30v-2.1M800.14 5.10v2.1M809.30 261.30v-3.6M809.30 5.10v3.6M818.46 261.30v-2.1M818.46 5.10v2.1M827.62 261.30v-2.1M827.62 5.10v2.1M580.30 261.04h2.1M836.30 261.04h-2.1M580.30 251.20h3.6M836.30 251.20h-3.6M580.30 241.36h2.1M836.30 241.36h-2.1M580.30 231.52h2.1M836.30 231.52h-2.1M580.30 221.68h2.1M836.30 221.68h-2.1M580.30 211.84h2.1M836.30 211.84h-2.1M580.30 202.00h3.6M836.30 202.00h-3.6M580.30 192.16h2.1M836.30 192.16h-2.1M580.30 182.32h2.1M836.30 182.32h-2.1M580.30 172.48h2.1M836.30 172.48h-2.1M580.30 162.64h2.1M836.30 162.64h-2.1M580.30 152.80h3.6M836.30 152.80h-3.6M580.30 142.96h2.1M836.30 142.96h-2.1M580.30 133.12h2.1M836.30 133.12h-2.1M580.30 123.28h2.1M836.30 123.28h-2.1M580.30 113.44h2.1M836.30 113.44h-2.1M580.30 103.60h3.6M836.30 103.60h-3.6M580.30 93.76h2.1M836.30 93.76h-2.1M580.30 83.92h2.1M836.30 83.92h-2.1M580.30 74.08h2.1M836.30 74.08h-2.1M580.30 64.24h2.1M836.30 64.24h-2.1M580.30 54.40h3.6M836.30 54.40h-3.6M580.30 44.56h2.1M836.30 44.56h-2.1M580.30 34.72h2.1M836.30 34.72h-2.1M580.30 24.88h2.1M836.30 24.88h-2.1M580.30 15.04h2.1M836.30 15.04h-2.1M580.30 5.20h3.6M836.30 5.20h-3.6"/>
</g>
<text x="29.3" y="274.3" font-size="12.0" text-anchor="middle">5</text>
<text x="80.3" y="274.3" font-size="12.0" text-anchor="middle">6</text>
<text x="131.3" y="274.3" font-size="12.0" text-anchor="middle">7</text>
<text x="182.3" y="274.3" font-size="12.0" text-anchor="middle">8</text>
<text x="233.3" y="274.3" font-size="12.0" text-anchor="middle">9</text>
<text x="283.1" y="274.3" font-size="12.0" text-anchor="middle">10</text>
<text transform="translate(26.3 23.8) rotate(-90)" font-size="12.0" text-anchor="middle">-2.6</text>
<text transform="translate(26.3 55.8) rotate(-90)" font-size="12.0" text-anchor="middle">-2.8</text>
<text transform="translate(26.3 87.7) rotate(-90)" font-size="12.0" text-anchor="middle">-3.0</text>
<text transform="translate(26.3 119.7) rotate(-90)" font-size="12.0" text-anchor="middle">-3.2</text>
<text transform="translate(26.3 151.6) rotate(-90)" font-size="12.0" text-anchor="middle">-3.4</text>
<text transform="translate(26.3 183.6) rotate(-90)" font-size="12.0" text-anchor="middle">-3.6</text>
<text transform="translate(26.3 215.5) rotate(-90)" font-size="12.0" text-anchor="middle">-3.8</text>
<text transform="translate(26.3 247.5) rotate(-90)" font-size="12.0" text-anchor="middle">-4.0</text>
<text transform="translate(9.3 145.0) rotate(-90)" font-size="12.5" text-anchor="middle" xml:space="preserve">Log<tspan font-size="8.5" dy="2.3">10</tspan><tspan dy="-2.3">  [ &#915; (GeV) ]</tspan></text>
<text class="h" x="141.5" y="290.2" font-size="12" text-anchor="middle" xml:space="preserve">Log<tspan font-size="8.5" dy="2.3">10</tspan><tspan dy="-2.3">  [ </tspan><tspan font-style="italic">L</tspan><tspan font-size="8.5" dy="2.3">dec</tspan><tspan dy="-2.3"> (km) ]</tspan></text>
<rect x="116.3" y="37.5" width="70.4" height="26" fill="#fff"/>
<text x="149.6" y="53.8" font-size="11.8" text-anchor="middle" style="fill:#a12626;stroke:#a12626;stroke-width:0.22px">Excluded</text>
<rect x="33" y="233" width="58" height="22.5" fill="#fff"/>
<text class="h" x="44" y="250.3" font-size="15.7">AMS</text>
<rect x="239.20" y="187.10" width="45.80" height="74.20" fill="#fff" stroke="#7d7d7d" stroke-width="1"/>
<path d="M239.20 204.30H285.00" stroke="#555" stroke-width="0.9"/>
<text x="240.5" y="198.1" font-size="9.1" xml:space="preserve">M<tspan font-size="6.3" dy="1.7">DM</tspan><tspan dy="-1.7"> (GeV)</tspan></text>
<path d="M243.20 212.70H259.20" stroke="#0a0ab4" stroke-width="1.4"/>
<text class="s" x="262.9" y="215.4" font-size="7.0">200</text>
<path d="M243.20 226.20H259.20" stroke="#a800a8" stroke-width="1.4"/>
<text class="s" x="262.9" y="228.9" font-size="7.0">500</text>
<path d="M243.20 239.80H259.20" stroke="#ff2020" stroke-width="1.4"/>
<text class="s" x="262.9" y="242.5" font-size="7.0">1000</text>
<path d="M243.20 253.30H259.20" stroke="#08aa08" stroke-width="1.4"/>
<text class="s" x="262.9" y="256.0" font-size="7.0">2000</text>
<text x="308.8" y="274.3" font-size="12.0" text-anchor="middle">5</text>
<text x="352.1" y="274.3" font-size="12.0" text-anchor="middle">6</text>
<text x="397.8" y="274.3" font-size="12.0" text-anchor="middle">7</text>
<text x="443.5" y="274.3" font-size="12.0" text-anchor="middle">8</text>
<text x="489.2" y="274.3" font-size="12.0" text-anchor="middle">9</text>
<text x="534.9" y="274.3" font-size="12.0" text-anchor="middle">10</text>
<text transform="translate(302.0 10.5) rotate(-90)" font-size="12.0" text-anchor="middle">-2.0</text>
<text transform="translate(302.0 52.5) rotate(-90)" font-size="12.0" text-anchor="middle">-2.5</text>
<text transform="translate(302.0 95.1) rotate(-90)" font-size="12.0" text-anchor="middle">-3.0</text>
<text transform="translate(302.0 137.7) rotate(-90)" font-size="12.0" text-anchor="middle">-3.5</text>
<text transform="translate(302.0 180.3) rotate(-90)" font-size="12.0" text-anchor="middle">-4.0</text>
<text transform="translate(302.0 222.9) rotate(-90)" font-size="12.0" text-anchor="middle">-4.5</text>
<text transform="translate(302.0 264.6) rotate(-90)" font-size="12.0" text-anchor="middle">-5.0</text>
<text class="h" x="417.0" y="287.3" font-size="12" text-anchor="middle" xml:space="preserve">Log<tspan font-size="8.5" dy="2.3">10</tspan><tspan dy="-2.3">  [ </tspan><tspan font-style="italic">L</tspan><tspan font-size="8.5" dy="2.3">dec</tspan><tspan dy="-2.3"> (km) ]</tspan></text>
<rect x="388.0" y="37.5" width="70.3" height="26" fill="#fff"/>
<text x="421.0" y="53.8" font-size="11.8" text-anchor="middle" style="fill:#a12626;stroke:#a12626;stroke-width:0.22px">Excluded</text>
<rect x="310.5" y="237" width="60" height="18.5" fill="#fff"/>
<text class="h" x="313" y="251.6" font-size="16.0">CALET</text>
<rect x="516.50" y="188.30" width="46.10" height="73.00" fill="#fff" stroke="#7d7d7d" stroke-width="1"/>
<path d="M516.50 206.40H562.60" stroke="#555" stroke-width="0.9"/>
<text x="517.3" y="200.0" font-size="9.1" xml:space="preserve">M<tspan font-size="6.3" dy="1.7">DM</tspan><tspan dy="-1.7"> (GeV)</tspan></text>
<path d="M520.80 213.70H536.70" stroke="#0a0ab4" stroke-width="1.4"/>
<text class="s" x="539.4" y="216.4" font-size="7.2">200</text>
<path d="M520.80 227.00H536.70" stroke="#ff2020" stroke-width="1.4"/>
<text class="s" x="539.4" y="229.7" font-size="7.2">1000</text>
<path d="M520.80 240.30H536.70" stroke="#08aa08" stroke-width="1.4"/>
<text class="s" x="539.4" y="243.0" font-size="7.2">2000</text>
<path d="M520.80 254.20H536.70" stroke="#ff66cc" stroke-width="1.4"/>
<text class="s" x="539.4" y="256.9" font-size="7.2">3000</text>
<text x="581.0" y="275.6" font-size="14.5" text-anchor="middle">5</text>
<text x="626.1" y="275.6" font-size="14.5" text-anchor="middle">6</text>
<text x="671.9" y="275.6" font-size="14.5" text-anchor="middle">7</text>
<text x="717.7" y="275.6" font-size="14.5" text-anchor="middle">8</text>
<text x="763.5" y="275.6" font-size="14.5" text-anchor="middle">9</text>
<text x="809.3" y="275.6" font-size="14.5" text-anchor="middle">10</text>
<text transform="translate(576.5 9.9) rotate(-90)" font-size="12.0" text-anchor="middle">-2.0</text>
<text transform="translate(576.5 57.9) rotate(-90)" font-size="12.0" text-anchor="middle">-2.5</text>
<text transform="translate(576.5 106.9) rotate(-90)" font-size="12.0" text-anchor="middle">-3.0</text>
<text transform="translate(576.5 156.4) rotate(-90)" font-size="12.0" text-anchor="middle">-3.5</text>
<text transform="translate(576.5 205.9) rotate(-90)" font-size="12.0" text-anchor="middle">-4.0</text>
<text transform="translate(576.5 253.5) rotate(-90)" font-size="12.0" text-anchor="middle">-4.5</text>
<text class="h" x="686.0" y="288.1" font-size="12" text-anchor="middle" xml:space="preserve">Log<tspan font-size="8.5" dy="2.3">10</tspan><tspan dy="-2.3">  [ </tspan><tspan font-style="italic">L</tspan><tspan font-size="8.5" dy="2.3">dec</tspan><tspan dy="-2.3"> (km) ]</tspan></text>
<rect x="658.3" y="37.5" width="74.7" height="26" fill="#fff"/>
<text x="694.3" y="53.8" font-size="11.8" text-anchor="middle" style="fill:#a12626;stroke:#a12626;stroke-width:0.22px">Excluded</text>
<rect x="584.3" y="236.5" width="52" height="18" fill="#fff"/>
<text class="h" x="587" y="249.9" font-size="11.8">DAMPE</text>
<rect x="790.40" y="190.30" width="45.90" height="71.00" fill="#fff" stroke="#7d7d7d" stroke-width="1"/>
<path d="M790.40 207.90H836.30" stroke="#555" stroke-width="0.9"/>
<text x="792.1" y="201.7" font-size="9.1" xml:space="preserve">M<tspan font-size="6.3" dy="1.7">DM</tspan><tspan dy="-1.7"> (GeV)</tspan></text>
<path d="M795.00 213.70H811.00" stroke="#1c1cf0" stroke-width="1.4"/>
<text class="s" x="813.9" y="216.4" font-size="6.9">200</text>
<path d="M795.00 227.10H811.00" stroke="#ff2020" stroke-width="1.4"/>
<text class="s" x="813.9" y="229.8" font-size="6.9">500</text>
<path d="M795.00 240.40H811.00" stroke="#08aa08" stroke-width="1.4"/>
<text class="s" x="813.9" y="243.1" font-size="6.9">2000</text>
<path d="M795.00 254.40H811.00" stroke="#ff66cc" stroke-width="1.4"/>
<text class="s" x="813.9" y="257.1" font-size="6.9">5000</text>
</svg>
</body></html>
